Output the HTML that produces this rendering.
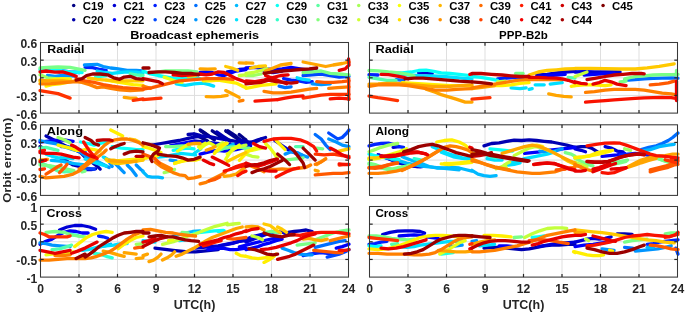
<!DOCTYPE html><html><head><meta charset="utf-8"><style>html,body{margin:0;padding:0;background:#fff;width:685px;height:313px;overflow:hidden}svg{display:block;filter:blur(0.35px)}text{font-family:"Liberation Sans",sans-serif;font-weight:bold}</style></head><body>
<svg width="685" height="313" viewBox="0 0 685 313">
<rect width="685" height="313" fill="#fff"/>
<circle cx="73.70" cy="5.60" r="1.75" fill="#000083"/>
<text transform="translate(82.70,9.90) scale(0.965,1)" text-anchor="start" font-size="11.8" fill="#000" >C19</text>
<circle cx="73.70" cy="19.80" r="1.75" fill="#0000ab"/>
<text transform="translate(82.70,24.10) scale(0.965,1)" text-anchor="start" font-size="11.8" fill="#000" >C20</text>
<circle cx="114.42" cy="5.60" r="1.75" fill="#0000d3"/>
<text transform="translate(123.42,9.90) scale(0.965,1)" text-anchor="start" font-size="11.8" fill="#000" >C21</text>
<circle cx="114.42" cy="19.80" r="1.75" fill="#0000f7"/>
<text transform="translate(123.42,24.10) scale(0.965,1)" text-anchor="start" font-size="11.8" fill="#000" >C22</text>
<circle cx="155.14" cy="5.60" r="1.75" fill="#0020ff"/>
<text transform="translate(164.14,9.90) scale(0.965,1)" text-anchor="start" font-size="11.8" fill="#000" >C23</text>
<circle cx="155.14" cy="19.80" r="1.75" fill="#0048ff"/>
<text transform="translate(164.14,24.10) scale(0.965,1)" text-anchor="start" font-size="11.8" fill="#000" >C24</text>
<circle cx="195.86" cy="5.60" r="1.75" fill="#0070ff"/>
<text transform="translate(204.86,9.90) scale(0.965,1)" text-anchor="start" font-size="11.8" fill="#000" >C25</text>
<circle cx="195.86" cy="19.80" r="1.75" fill="#0097ff"/>
<text transform="translate(204.86,24.10) scale(0.965,1)" text-anchor="start" font-size="11.8" fill="#000" >C26</text>
<circle cx="236.58" cy="5.60" r="1.75" fill="#00bbff"/>
<text transform="translate(245.58,9.90) scale(0.965,1)" text-anchor="start" font-size="11.8" fill="#000" >C27</text>
<circle cx="236.58" cy="19.80" r="1.75" fill="#00e3ff"/>
<text transform="translate(245.58,24.10) scale(0.965,1)" text-anchor="start" font-size="11.8" fill="#000" >C28</text>
<circle cx="277.30" cy="5.60" r="1.75" fill="#0cfff3"/>
<text transform="translate(286.30,9.90) scale(0.965,1)" text-anchor="start" font-size="11.8" fill="#000" >C29</text>
<circle cx="277.30" cy="19.80" r="1.75" fill="#34ffcb"/>
<text transform="translate(286.30,24.10) scale(0.965,1)" text-anchor="start" font-size="11.8" fill="#000" >C30</text>
<circle cx="318.02" cy="5.60" r="1.75" fill="#5cffa3"/>
<text transform="translate(327.02,9.90) scale(0.965,1)" text-anchor="start" font-size="11.8" fill="#000" >C31</text>
<circle cx="318.02" cy="19.80" r="1.75" fill="#83ff7c"/>
<text transform="translate(327.02,24.10) scale(0.965,1)" text-anchor="start" font-size="11.8" fill="#000" >C32</text>
<circle cx="358.74" cy="5.60" r="1.75" fill="#a7ff58"/>
<text transform="translate(367.74,9.90) scale(0.965,1)" text-anchor="start" font-size="11.8" fill="#000" >C33</text>
<circle cx="358.74" cy="19.80" r="1.75" fill="#cfff30"/>
<text transform="translate(367.74,24.10) scale(0.965,1)" text-anchor="start" font-size="11.8" fill="#000" >C34</text>
<circle cx="399.46" cy="5.60" r="1.75" fill="#f7ff08"/>
<text transform="translate(408.46,9.90) scale(0.965,1)" text-anchor="start" font-size="11.8" fill="#000" >C35</text>
<circle cx="399.46" cy="19.80" r="1.75" fill="#ffdf00"/>
<text transform="translate(408.46,24.10) scale(0.965,1)" text-anchor="start" font-size="11.8" fill="#000" >C36</text>
<circle cx="440.18" cy="5.60" r="1.75" fill="#ffb700"/>
<text transform="translate(449.18,9.90) scale(0.965,1)" text-anchor="start" font-size="11.8" fill="#000" >C37</text>
<circle cx="440.18" cy="19.80" r="1.75" fill="#ff9300"/>
<text transform="translate(449.18,24.10) scale(0.965,1)" text-anchor="start" font-size="11.8" fill="#000" >C38</text>
<circle cx="480.90" cy="5.60" r="1.75" fill="#ff6c00"/>
<text transform="translate(489.90,9.90) scale(0.965,1)" text-anchor="start" font-size="11.8" fill="#000" >C39</text>
<circle cx="480.90" cy="19.80" r="1.75" fill="#ff4400"/>
<text transform="translate(489.90,24.10) scale(0.965,1)" text-anchor="start" font-size="11.8" fill="#000" >C40</text>
<circle cx="521.62" cy="5.60" r="1.75" fill="#ff1c00"/>
<text transform="translate(530.62,9.90) scale(0.965,1)" text-anchor="start" font-size="11.8" fill="#000" >C41</text>
<circle cx="521.62" cy="19.80" r="1.75" fill="#f30000"/>
<text transform="translate(530.62,24.10) scale(0.965,1)" text-anchor="start" font-size="11.8" fill="#000" >C42</text>
<circle cx="562.34" cy="5.60" r="1.75" fill="#cf0000"/>
<text transform="translate(571.34,9.90) scale(0.965,1)" text-anchor="start" font-size="11.8" fill="#000" >C43</text>
<circle cx="562.34" cy="19.80" r="1.75" fill="#a70000"/>
<text transform="translate(571.34,24.10) scale(0.965,1)" text-anchor="start" font-size="11.8" fill="#000" >C44</text>
<circle cx="603.06" cy="5.60" r="1.75" fill="#800000"/>
<text transform="translate(612.06,9.90) scale(0.965,1)" text-anchor="start" font-size="11.8" fill="#000" >C45</text>
<line x1="79.00" y1="42.50" x2="79.00" y2="113.10" stroke="#dfdfdf" stroke-width="1"/>
<line x1="117.50" y1="42.50" x2="117.50" y2="113.10" stroke="#dfdfdf" stroke-width="1"/>
<line x1="156.00" y1="42.50" x2="156.00" y2="113.10" stroke="#dfdfdf" stroke-width="1"/>
<line x1="194.50" y1="42.50" x2="194.50" y2="113.10" stroke="#dfdfdf" stroke-width="1"/>
<line x1="233.00" y1="42.50" x2="233.00" y2="113.10" stroke="#dfdfdf" stroke-width="1"/>
<line x1="271.50" y1="42.50" x2="271.50" y2="113.10" stroke="#dfdfdf" stroke-width="1"/>
<line x1="310.00" y1="42.50" x2="310.00" y2="113.10" stroke="#dfdfdf" stroke-width="1"/>
<line x1="40.50" y1="60.15" x2="348.50" y2="60.15" stroke="#dfdfdf" stroke-width="1"/>
<line x1="40.50" y1="77.80" x2="348.50" y2="77.80" stroke="#dfdfdf" stroke-width="1"/>
<line x1="40.50" y1="95.45" x2="348.50" y2="95.45" stroke="#dfdfdf" stroke-width="1"/>
<g fill="none" stroke-width="3.6" stroke-linecap="round" stroke-linejoin="round">
<path d="M49.0,71.0 L55.0,71.0 L59.5,71.8" stroke="#0000d7" stroke-width="3.3"/>
<path d="M227.2,71.8 L233.2,71.0 L239.2,69.5 L246.0,68.8" stroke="#0000d7" stroke-width="3.3"/>
<path d="M264.0,71.0 L273.1,72.5 L282.1,71.0" stroke="#0000d7" stroke-width="3.3"/>
<path d="M200.1,72.5 L206.2,71.8 L212.2,72.5 L218.2,74.8 L224.2,75.5 L230.2,73.3 L236.2,71.0 L246.0,69.5" stroke="#0000fb" stroke-width="3.3"/>
<path d="M246.0,68.0 L255.0,67.3 L264.0,68.8 L273.1,69.5 L282.1,68.8 L291.1,67.3 L300.1,68.8 L309.2,70.3 L316.7,71.0" stroke="#0000fb" stroke-width="3.3"/>
<path d="M62.6,71.0 L70.1,71.8 L79.1,72.5" stroke="#0022ff" stroke-width="3.3"/>
<path d="M85.1,67.3 L92.6,67.7 L100.2,69.5 L106.2,70.3" stroke="#0022ff" stroke-width="3.3"/>
<path d="M283.6,78.6 L291.1,80.1 L298.6,80.8 L306.2,82.3 L312.2,81.6" stroke="#0022ff" stroke-width="3.3"/>
<path d="M303.1,75.5 L312.2,74.8 L321.2,74.0 L330.2,75.5 L339.2,77.1 L349.0,76.3" stroke="#0048ff" stroke-width="3.3"/>
<path d="M279.1,86.1 L285.1,87.6 L291.1,86.8" stroke="#006eff" stroke-width="3.3"/>
<path d="M47.5,75.5 L55.0,76.3 L62.6,75.5 L70.1,75.5 L76.1,76.3" stroke="#0095ff" stroke-width="3.3"/>
<path d="M84.4,65.0 L91.1,64.7 L97.1,64.3 L103.2,66.5 L110.7,68.0 L118.2,68.8 L127.2,70.3 L136.2,70.3 L143.0,71.0" stroke="#0095ff" stroke-width="3.3"/>
<path d="M312.2,83.8 L321.2,84.6 L330.2,83.8" stroke="#0095ff" stroke-width="3.3"/>
<path d="M97.1,71.0 L104.7,72.5 L112.2,73.3 L119.7,72.5 L127.2,71.8 L136.2,72.2 L143.0,73.3" stroke="#00dfff" stroke-width="3.3"/>
<path d="M176.1,83.8 L185.1,85.3 L194.1,83.8 L203.2,83.1 L209.2,84.6 L213.7,86.1" stroke="#00dfff" stroke-width="3.3"/>
<path d="M297.1,77.8 L303.1,79.3 L309.2,80.1" stroke="#00dfff" stroke-width="3.3"/>
<path d="M40.0,69.5 L49.0,69.8 L58.0,70.3 L70.1,71.8 L82.1,72.5" stroke="#06fff9" stroke-width="3.3"/>
<path d="M143.0,71.0 L150.5,74.0 L158.0,75.5 L167.1,77.1 L176.1,78.6 L185.1,77.8 L192.6,77.1 L200.1,78.6" stroke="#06fff9" stroke-width="3.3"/>
<path d="M95.6,77.1 L100.2,76.3 L106.2,75.5" stroke="#2cffd3" stroke-width="3.3"/>
<path d="M130.2,74.0 L136.2,74.8 L143.0,75.5" stroke="#52ffad" stroke-width="3.3"/>
<path d="M40.0,68.0 L47.5,67.3 L58.0,67.0 L70.1,67.3 L77.6,68.8 L85.1,70.3" stroke="#78ff87" stroke-width="3.3"/>
<path d="M155.0,72.5 L165.6,71.0 L177.6,71.0 L188.1,71.0 L197.1,71.8" stroke="#78ff87" stroke-width="3.3"/>
<path d="M303.1,72.5 L312.2,71.8 L321.2,71.0 L330.2,73.3 L339.2,74.0 L349.0,74.8" stroke="#78ff87" stroke-width="3.3"/>
<path d="M40.0,74.8 L47.5,77.8 L55.0,78.6 L62.6,79.3 L70.1,78.6" stroke="#9dff62" stroke-width="3.3"/>
<path d="M246.0,75.5 L253.5,75.5 L261.0,74.0" stroke="#9dff62" stroke-width="3.3"/>
<path d="M239.2,75.5 L246.0,74.8" stroke="#c3ff3c" stroke-width="3.3"/>
<path d="M246.0,73.3 L253.5,72.5 L261.0,70.3 L267.1,68.8" stroke="#c3ff3c" stroke-width="3.3"/>
<path d="M112.2,80.8 L121.2,82.3" stroke="#e9ff16" stroke-width="3.3"/>
<path d="M164.1,77.1 L170.1,79.3 L176.1,81.6 L182.1,82.3" stroke="#e9ff16" stroke-width="3.3"/>
<path d="M40.0,81.6 L47.5,80.8 L55.0,79.3 L62.6,78.6 L70.1,79.3" stroke="#ffef00" stroke-width="3.3"/>
<path d="M46.0,86.1 L52.0,84.6 L59.5,83.8 L67.1,82.3" stroke="#ffef00" stroke-width="3.3"/>
<path d="M106.2,80.1 L115.2,81.6 L124.2,83.1 L133.2,84.6 L143.0,85.3" stroke="#ffef00" stroke-width="3.3"/>
<path d="M203.2,80.8 L210.7,80.8 L218.2,80.1 L227.2,81.6 L236.2,83.1 L242.2,86.1 L246.0,87.6" stroke="#ffef00" stroke-width="3.3"/>
<path d="M246.0,88.3 L253.5,86.8 L261.0,85.3 L268.6,84.6 L276.1,83.8" stroke="#ffef00" stroke-width="3.3"/>
<path d="M88.1,77.8 L97.1,79.3 L106.2,80.1 L115.2,80.8 L124.2,80.8 L133.2,80.8 L143.0,80.8" stroke="#ffc900" stroke-width="3.3"/>
<path d="M225.7,66.5 L231.7,68.0 L237.7,70.3" stroke="#ffc900" stroke-width="3.3"/>
<path d="M188.1,76.3 L195.6,75.5" stroke="#ffc900" stroke-width="3.3"/>
<path d="M250.5,68.0 L258.0,66.5 L265.5,65.8" stroke="#ffc900" stroke-width="3.3"/>
<path d="M40.0,80.1 L47.5,80.8 L55.0,80.8 L62.6,80.8 L70.1,81.6 L76.1,80.8" stroke="#ffa500" stroke-width="3.3"/>
<path d="M124.2,97.4 L130.2,98.1 L136.2,98.1" stroke="#ffa500" stroke-width="3.3"/>
<path d="M200.1,68.8 L207.7,69.2 L215.2,68.8" stroke="#ffa500" stroke-width="3.3"/>
<path d="M239.2,62.8 L246.0,63.2" stroke="#ffa500" stroke-width="3.3"/>
<path d="M206.2,96.6 L213.7,96.9 L221.2,96.3 L227.2,95.4" stroke="#ffa500" stroke-width="3.3"/>
<path d="M225.7,90.6 L233.2,94.3 L239.2,97.4" stroke="#ffa500" stroke-width="3.3"/>
<path d="M246.0,62.8 L252.8,63.2" stroke="#ffa500" stroke-width="3.3"/>
<path d="M265.5,71.0 L273.1,68.0 L280.6,65.0 L291.1,63.5" stroke="#ffa500" stroke-width="3.3"/>
<path d="M303.1,62.0 L310.7,63.5 L318.2,65.0 L325.7,66.5 L333.2,65.0 L342.2,63.5 L349.0,62.0" stroke="#ffa500" stroke-width="3.3"/>
<path d="M40.0,83.8 L49.0,83.8 L58.0,83.1 L67.1,82.3 L76.1,81.6 L82.1,82.3 L89.6,84.6 L97.1,87.6 L103.2,86.8 L110.7,88.3 L119.7,89.8 L130.2,90.6 L143.0,89.8" stroke="#ff7f00" stroke-width="3.3"/>
<path d="M143.0,86.1 L150.5,88.3" stroke="#ff7f00" stroke-width="3.3"/>
<path d="M239.2,101.1 L243.0,100.4" stroke="#ff7f00" stroke-width="3.3"/>
<path d="M264.0,91.3 L273.1,92.8 L282.1,92.8 L291.1,92.1 L300.1,90.6 L309.2,89.1 L316.7,88.3" stroke="#ff7f00" stroke-width="3.3"/>
<path d="M328.7,88.3 L337.7,87.6 L349.0,86.8" stroke="#ff7f00" stroke-width="3.3"/>
<path d="M76.1,78.6 L85.1,80.8 L94.1,82.3 L103.2,84.6 L112.2,86.1 L122.7,87.6 L133.2,88.3 L143.0,89.1" stroke="#ff5900" stroke-width="3.3"/>
<path d="M143.0,89.1 L152.0,87.6 L161.0,85.3 L170.1,83.1 L179.1,80.8 L188.1,80.1 L197.1,79.3 L206.2,78.6 L215.2,78.6 L224.2,78.6 L233.2,79.3" stroke="#ff5900" stroke-width="3.3"/>
<path d="M316.7,81.6 L324.2,82.3 L333.2,82.3 L342.2,81.6 L349.0,80.8" stroke="#ff5900" stroke-width="3.3"/>
<path d="M40.0,90.6 L49.0,92.1 L58.0,93.6 L70.1,98.1" stroke="#ff3200" stroke-width="3.3"/>
<path d="M133.2,100.4 L143.0,98.9" stroke="#ff3200" stroke-width="3.3"/>
<path d="M143.0,99.6 L152.0,98.9 L161.0,98.1" stroke="#ff3200" stroke-width="3.3"/>
<path d="M303.1,98.1 L312.2,96.6 L321.2,95.1 L330.2,94.3 L339.2,94.3 L349.0,94.3" stroke="#ff3200" stroke-width="3.3"/>
<path d="M348.7,78.6 L348.7,99.6" stroke="#ff3200" stroke-width="3.3"/>
<path d="M255.0,101.1 L265.5,100.4 L277.6,99.6" stroke="#f91200" stroke-width="3.3"/>
<path d="M277.6,99.6 L285.1,98.1 L294.1,96.6 L303.1,95.8" stroke="#f91200" stroke-width="3.3"/>
<path d="M330.2,98.9 L339.2,98.1 L349.0,98.9" stroke="#f91200" stroke-width="3.3"/>
<path d="M40.0,71.8 L46.0,71.0 L55.0,72.2 L62.6,71.8 L70.1,74.0 L76.1,76.3" stroke="#e70000" stroke-width="3.3"/>
<path d="M173.1,74.8 L182.1,75.5 L191.1,74.8 L200.1,74.0 L206.2,74.8 L212.2,74.0 L218.2,71.8 L224.2,72.5 L230.2,75.5 L236.2,78.6 L242.2,80.8 L246.0,82.3" stroke="#e70000" stroke-width="3.3"/>
<path d="M246.0,80.8 L255.0,81.6 L264.0,80.1 L271.6,77.8 L280.6,75.5 L288.1,74.8" stroke="#e70000" stroke-width="3.3"/>
<path d="M265.5,75.5 L273.1,78.6 L280.6,81.6 L286.6,83.8" stroke="#e70000" stroke-width="3.3"/>
<path d="M339.2,70.3 L345.2,68.8 L349.0,65.0 L348.6,59.0" stroke="#e70000" stroke-width="3.3"/>
<path d="M143.0,78.6 L150.5,80.1 L158.0,81.6 L162.5,83.8" stroke="#c10000" stroke-width="3.3"/>
<path d="M246.0,83.8 L253.5,83.1 L261.0,82.3 L268.6,80.1 L276.1,81.6 L283.6,82.3 L291.1,83.1 L297.1,82.3" stroke="#c10000" stroke-width="3.3"/>
<path d="M76.1,80.1 L82.1,78.6 L86.6,75.5 L92.6,74.0 L100.2,74.0 L107.7,74.8 L113.7,77.8 L119.7,79.3 L124.2,77.1 L130.2,76.3 L136.2,78.6 L143.0,79.3" stroke="#9b0000" stroke-width="3.3"/>
<path d="M143.0,68.0 L149.0,68.0" stroke="#9b0000" stroke-width="3.3"/>
<path d="M149.0,72.5 L158.0,71.8 L165.6,71.8 L174.6,72.5 L182.1,73.3 L191.1,73.3 L198.6,74.8" stroke="#9b0000" stroke-width="3.3"/>
<path d="M264.0,73.3 L273.1,71.8 L282.1,71.0 L291.1,70.3 L300.1,69.5 L309.2,68.8 L316.7,68.0" stroke="#9b0000" stroke-width="3.3"/>
</g>
<rect x="40.50" y="42.50" width="308.00" height="70.60" fill="none" stroke="#383838" stroke-width="1.05"/>
<line x1="79.00" y1="113.10" x2="79.00" y2="109.90" stroke="#262626" stroke-width="1.2"/>
<line x1="79.00" y1="42.50" x2="79.00" y2="45.70" stroke="#262626" stroke-width="1.2"/>
<line x1="117.50" y1="113.10" x2="117.50" y2="109.90" stroke="#262626" stroke-width="1.2"/>
<line x1="117.50" y1="42.50" x2="117.50" y2="45.70" stroke="#262626" stroke-width="1.2"/>
<line x1="156.00" y1="113.10" x2="156.00" y2="109.90" stroke="#262626" stroke-width="1.2"/>
<line x1="156.00" y1="42.50" x2="156.00" y2="45.70" stroke="#262626" stroke-width="1.2"/>
<line x1="194.50" y1="113.10" x2="194.50" y2="109.90" stroke="#262626" stroke-width="1.2"/>
<line x1="194.50" y1="42.50" x2="194.50" y2="45.70" stroke="#262626" stroke-width="1.2"/>
<line x1="233.00" y1="113.10" x2="233.00" y2="109.90" stroke="#262626" stroke-width="1.2"/>
<line x1="233.00" y1="42.50" x2="233.00" y2="45.70" stroke="#262626" stroke-width="1.2"/>
<line x1="271.50" y1="113.10" x2="271.50" y2="109.90" stroke="#262626" stroke-width="1.2"/>
<line x1="271.50" y1="42.50" x2="271.50" y2="45.70" stroke="#262626" stroke-width="1.2"/>
<line x1="310.00" y1="113.10" x2="310.00" y2="109.90" stroke="#262626" stroke-width="1.2"/>
<line x1="310.00" y1="42.50" x2="310.00" y2="45.70" stroke="#262626" stroke-width="1.2"/>
<line x1="40.50" y1="60.15" x2="43.70" y2="60.15" stroke="#262626" stroke-width="1.2"/>
<line x1="348.50" y1="60.15" x2="345.30" y2="60.15" stroke="#262626" stroke-width="1.2"/>
<line x1="40.50" y1="77.80" x2="43.70" y2="77.80" stroke="#262626" stroke-width="1.2"/>
<line x1="348.50" y1="77.80" x2="345.30" y2="77.80" stroke="#262626" stroke-width="1.2"/>
<line x1="40.50" y1="95.45" x2="43.70" y2="95.45" stroke="#262626" stroke-width="1.2"/>
<line x1="348.50" y1="95.45" x2="345.30" y2="95.45" stroke="#262626" stroke-width="1.2"/>
<text transform="translate(37.20,48.00) scale(1.0,1)" text-anchor="end" font-size="12.1" fill="#262626" >0.6</text>
<text transform="translate(37.20,65.65) scale(1.0,1)" text-anchor="end" font-size="12.1" fill="#262626" >0.3</text>
<text transform="translate(37.20,83.30) scale(1.0,1)" text-anchor="end" font-size="12.1" fill="#262626" >0</text>
<text transform="translate(37.20,100.95) scale(1.0,1)" text-anchor="end" font-size="12.1" fill="#262626" >-0.3</text>
<text transform="translate(37.20,118.60) scale(1.0,1)" text-anchor="end" font-size="12.1" fill="#262626" >-0.6</text>
<text transform="translate(47.20,53.10) scale(1.05,1)" text-anchor="start" font-size="11.8" fill="#000" >Radial</text>
<line x1="79.00" y1="124.80" x2="79.00" y2="195.40" stroke="#dfdfdf" stroke-width="1"/>
<line x1="117.50" y1="124.80" x2="117.50" y2="195.40" stroke="#dfdfdf" stroke-width="1"/>
<line x1="156.00" y1="124.80" x2="156.00" y2="195.40" stroke="#dfdfdf" stroke-width="1"/>
<line x1="194.50" y1="124.80" x2="194.50" y2="195.40" stroke="#dfdfdf" stroke-width="1"/>
<line x1="233.00" y1="124.80" x2="233.00" y2="195.40" stroke="#dfdfdf" stroke-width="1"/>
<line x1="271.50" y1="124.80" x2="271.50" y2="195.40" stroke="#dfdfdf" stroke-width="1"/>
<line x1="310.00" y1="124.80" x2="310.00" y2="195.40" stroke="#dfdfdf" stroke-width="1"/>
<line x1="40.50" y1="142.45" x2="348.50" y2="142.45" stroke="#dfdfdf" stroke-width="1"/>
<line x1="40.50" y1="160.10" x2="348.50" y2="160.10" stroke="#dfdfdf" stroke-width="1"/>
<line x1="40.50" y1="177.75" x2="348.50" y2="177.75" stroke="#dfdfdf" stroke-width="1"/>
<g fill="none" stroke-width="3.6" stroke-linecap="round" stroke-linejoin="round">
<path d="M40.0,146.6 L43.0,148.1" stroke="#00008b" stroke-width="3.3"/>
<path d="M200.1,130.0 L204.7,133.0 L209.2,136.0" stroke="#00008b" stroke-width="3.3"/>
<path d="M212.2,130.8 L216.7,133.8 L221.2,137.5 L225.7,139.8" stroke="#00008b" stroke-width="3.3"/>
<path d="M225.7,130.8 L230.2,133.8 L234.7,136.8 L239.2,139.8" stroke="#00008b" stroke-width="3.3"/>
<path d="M239.2,134.5 L243.8,138.3 L246.0,139.8" stroke="#00008b" stroke-width="3.3"/>
<path d="M194.0,134.2 L200.8,137.6 L207.6,141.0" stroke="#00008b" stroke-width="3.3"/>
<path d="M200.8,130.8 L207.6,135.3 L214.4,139.9" stroke="#00008b" stroke-width="3.3"/>
<path d="M228.0,130.8 L234.8,135.3 L241.6,141.0 L248.4,142.1" stroke="#00008b" stroke-width="3.3"/>
<path d="M46.0,136.0 L52.0,139.0 L58.0,142.0 L64.1,145.1 L70.1,148.1 L76.1,150.3 L80.6,152.6 L85.1,157.1 L91.1,161.6 L97.1,166.1 L100.2,169.1" stroke="#0000b1" stroke-width="3.3"/>
<path d="M61.1,158.3 L67.1,161.3 L73.1,165.0 L79.1,166.5" stroke="#0000b1" stroke-width="3.3"/>
<path d="M152.0,145.1 L161.0,143.5 L170.1,142.0 L179.1,140.5 L188.1,138.3 L195.6,136.8 L203.2,136.0 L210.7,136.8 L218.2,138.3 L227.2,139.8 L236.2,141.3 L246.0,141.3" stroke="#0000b1" stroke-width="3.3"/>
<path d="M188.1,134.5 L194.1,133.8 L200.1,135.3" stroke="#0000b1" stroke-width="3.3"/>
<path d="M246.0,143.5 L252.0,142.0 L258.0,139.8 L265.5,137.5" stroke="#0000b1" stroke-width="3.3"/>
<path d="M216.7,131.9 L223.5,136.5 L230.3,141.0" stroke="#0000b1" stroke-width="3.3"/>
<path d="M239.4,139.9 L248.4,142.1 L255.2,142.1 L262.0,138.7" stroke="#0000b1" stroke-width="3.3"/>
<path d="M61.1,160.1 L67.1,162.3 L73.1,163.8 L79.1,165.4" stroke="#0000d7" stroke-width="3.3"/>
<path d="M86.6,169.5 L91.1,169.5 L95.6,168.8" stroke="#0000d7" stroke-width="3.3"/>
<path d="M274.6,140.5 L279.1,143.5 L283.6,146.6 L288.1,149.6 L292.6,151.8 L297.1,154.1 L303.1,155.6" stroke="#0000d7" stroke-width="3.3"/>
<path d="M194.0,141.0 L205.3,142.1 L216.7,143.3 L228.0,144.4 L239.4,144.4 L250.7,145.5" stroke="#0000d7" stroke-width="3.3"/>
<path d="M40.0,142.0 L46.0,141.3 L55.0,140.5 L64.1,139.8 L73.1,141.3" stroke="#0000fb" stroke-width="3.3"/>
<path d="M170.1,145.8 L177.6,144.3 L185.1,142.8 L192.6,141.3" stroke="#0000fb" stroke-width="3.3"/>
<path d="M200.1,154.1 L206.2,152.6 L212.2,151.1 L218.2,150.3 L224.2,151.1 L230.2,150.3 L236.2,149.6 L242.2,148.1 L246.0,146.6" stroke="#0000fb" stroke-width="3.3"/>
<path d="M61.1,146.6 L67.1,146.6 L73.1,148.1 L79.1,149.6 L85.1,151.8" stroke="#0048ff" stroke-width="3.3"/>
<path d="M82.1,169.1 L88.1,168.4 L94.1,169.1" stroke="#0048ff" stroke-width="3.3"/>
<path d="M328.7,133.0 L333.2,136.0 L337.7,139.0 L342.2,137.5 L346.8,133.0 L349.0,130.0" stroke="#0048ff" stroke-width="3.3"/>
<path d="M315.2,134.5 L321.2,139.0 L325.7,145.1 L330.2,149.6" stroke="#006eff" stroke-width="3.3"/>
<path d="M40.0,140.5 L46.0,142.0 L55.0,143.5 L64.1,146.6 L73.1,149.6 L79.1,151.1 L85.1,155.6 L91.1,160.1 L97.1,161.6 L103.2,164.6 L109.2,167.6" stroke="#0095ff" stroke-width="3.3"/>
<path d="M104.7,157.5 L109.2,162.0 L112.2,166.5" stroke="#0095ff" stroke-width="3.3"/>
<path d="M113.7,162.0 L118.2,166.5 L122.7,171.1 L124.2,172.6" stroke="#0095ff" stroke-width="3.3"/>
<path d="M127.2,165.0 L131.7,169.5 L136.2,175.6" stroke="#0095ff" stroke-width="3.3"/>
<path d="M136.2,165.0 L140.8,169.5 L143.0,171.1" stroke="#0095ff" stroke-width="3.3"/>
<path d="M170.1,160.1 L176.1,160.8" stroke="#0095ff" stroke-width="3.3"/>
<path d="M285.1,154.1 L291.1,151.8 L297.1,152.6 L303.1,155.6 L307.7,157.1" stroke="#0095ff" stroke-width="3.3"/>
<path d="M328.7,139.0 L336.2,142.0 L342.2,145.1 L349.0,146.6" stroke="#0095ff" stroke-width="3.3"/>
<path d="M94.1,160.1 L100.2,163.1 L106.2,166.1" stroke="#00b9ff" stroke-width="3.3"/>
<path d="M227.2,148.1 L230.2,145.8 L233.2,144.3" stroke="#00b9ff" stroke-width="3.3"/>
<path d="M143.0,171.8 L147.5,176.3 L152.0,177.1 L158.0,177.1 L162.5,177.8" stroke="#00b9ff" stroke-width="3.3"/>
<path d="M51.3,160.3 L62.7,161.4 L74.0,163.7 L85.4,164.8" stroke="#00b9ff" stroke-width="3.3"/>
<path d="M46.0,154.1 L52.0,156.3 L58.0,157.8 L65.6,157.8 L73.1,158.6" stroke="#00dfff" stroke-width="3.3"/>
<path d="M103.2,157.1 L109.2,160.1 L115.2,163.1" stroke="#00dfff" stroke-width="3.3"/>
<path d="M85.1,159.0 L92.6,162.0 L100.2,164.3 L106.2,165.8" stroke="#00dfff" stroke-width="3.3"/>
<path d="M158.0,157.1 L165.6,156.3 L173.1,154.8 L180.6,153.3 L188.1,154.1 L195.6,154.8" stroke="#00dfff" stroke-width="3.3"/>
<path d="M246.0,149.6 L249.0,148.1" stroke="#00dfff" stroke-width="3.3"/>
<path d="M194.0,153.5 L200.8,148.9" stroke="#00dfff" stroke-width="3.3"/>
<path d="M221.2,148.9 L230.3,146.7" stroke="#00dfff" stroke-width="3.3"/>
<path d="M80.6,142.0 L88.1,143.5 L94.1,145.1 L100.2,143.5 L106.2,142.0" stroke="#06fff9" stroke-width="3.3"/>
<path d="M112.2,146.6 L121.2,148.1 L130.2,148.8 L136.2,149.6 L143.0,149.6" stroke="#06fff9" stroke-width="3.3"/>
<path d="M173.1,150.3 L180.6,148.8 L188.1,148.1 L194.1,148.8" stroke="#06fff9" stroke-width="3.3"/>
<path d="M40.0,148.1 L46.0,147.3 L52.0,148.8 L58.0,150.3" stroke="#52ffad" stroke-width="3.3"/>
<path d="M40.0,162.8 L46.0,165.0 L52.0,168.0 L58.0,171.1 L64.1,171.8 L73.1,171.1" stroke="#52ffad" stroke-width="3.3"/>
<path d="M295.6,146.6 L303.1,146.6" stroke="#52ffad" stroke-width="3.3"/>
<path d="M82.1,171.8 L85.1,171.1" stroke="#78ff87" stroke-width="3.3"/>
<path d="M165.6,146.6 L173.1,146.6 L182.1,145.8 L189.6,146.6" stroke="#78ff87" stroke-width="3.3"/>
<path d="M285.1,160.1 L291.1,159.3 L297.1,158.6 L303.1,157.8" stroke="#78ff87" stroke-width="3.3"/>
<path d="M316.7,148.1 L322.7,148.8" stroke="#78ff87" stroke-width="3.3"/>
<path d="M216.7,151.2 L225.7,147.8 L234.8,146.7 L243.9,147.8 L253.0,148.9" stroke="#78ff87" stroke-width="3.3"/>
<path d="M40.0,164.8 L51.3,166.0 L62.7,168.2 L74.0,170.5" stroke="#78ff87" stroke-width="3.3"/>
<path d="M58.0,137.5 L64.1,139.8 L70.1,142.8" stroke="#9dff62" stroke-width="3.3"/>
<path d="M164.1,172.6 L170.1,171.1 L174.6,169.5" stroke="#9dff62" stroke-width="3.3"/>
<path d="M215.2,146.6 L219.7,144.3 L222.7,142.8" stroke="#c3ff3c" stroke-width="3.3"/>
<path d="M233.2,148.8 L239.2,146.6 L246.0,145.1" stroke="#c3ff3c" stroke-width="3.3"/>
<path d="M246.0,154.1 L252.0,156.3 L258.0,157.1" stroke="#c3ff3c" stroke-width="3.3"/>
<path d="M177.6,151.1 L182.1,148.1 L188.1,144.3" stroke="#e9ff16" stroke-width="3.3"/>
<path d="M200.1,148.8 L204.7,145.1 L209.2,142.8 L213.7,145.1" stroke="#e9ff16" stroke-width="3.3"/>
<path d="M215.2,151.8 L219.7,148.8 L224.2,145.1 L227.2,143.5" stroke="#e9ff16" stroke-width="3.3"/>
<path d="M227.2,154.1 L231.7,151.1 L236.2,147.3 L239.2,145.1" stroke="#e9ff16" stroke-width="3.3"/>
<path d="M246.0,151.1 L252.0,150.3 L258.0,148.8 L262.5,148.1" stroke="#e9ff16" stroke-width="3.3"/>
<path d="M265.5,143.5 L270.1,148.1 L274.6,154.1 L277.6,158.6" stroke="#e9ff16" stroke-width="3.3"/>
<path d="M198.5,146.7 L205.3,143.3" stroke="#e9ff16" stroke-width="3.3"/>
<path d="M225.7,159.1 L232.5,148.9 L239.4,146.7" stroke="#e9ff16" stroke-width="3.3"/>
<path d="M58.0,145.1 L64.1,146.6 L70.1,148.1 L76.1,150.3 L82.1,150.3 L88.1,148.8 L94.1,149.6 L100.2,151.1" stroke="#ffef00" stroke-width="3.3"/>
<path d="M110.7,130.0 L116.7,133.0 L122.7,136.0" stroke="#ffef00" stroke-width="3.3"/>
<path d="M174.6,163.1 L180.6,161.6 L188.1,160.1 L195.6,160.1 L200.1,158.6" stroke="#ffef00" stroke-width="3.3"/>
<path d="M143.0,146.6 L149.0,148.1 L155.0,150.3 L161.0,152.6" stroke="#ffef00" stroke-width="3.3"/>
<path d="M174.6,163.5 L179.1,162.0 L183.6,160.5" stroke="#ffef00" stroke-width="3.3"/>
<path d="M276.1,140.5 L280.6,145.1 L285.1,149.6" stroke="#ffef00" stroke-width="3.3"/>
<path d="M214.4,153.5 L221.2,145.5 L225.7,143.3" stroke="#ffef00" stroke-width="3.3"/>
<path d="M239.4,160.3 L248.4,151.2 L257.5,146.7" stroke="#ffef00" stroke-width="3.3"/>
<path d="M108.0,161.4 L121.6,160.3 L135.2,159.1 L146.6,158.0 L157.9,155.7" stroke="#ffef00" stroke-width="3.3"/>
<path d="M130.2,139.0 L134.7,139.8 L139.2,142.0" stroke="#ffc900" stroke-width="3.3"/>
<path d="M106.2,160.1 L113.7,160.1 L121.2,161.6 L130.2,161.6 L137.7,160.8 L143.0,160.1" stroke="#ffc900" stroke-width="3.3"/>
<path d="M106.2,159.0 L112.2,162.8 L118.2,163.5 L124.2,162.8 L133.2,161.3 L143.0,159.8" stroke="#ffc900" stroke-width="3.3"/>
<path d="M227.2,161.6 L233.2,158.6 L239.2,155.6 L246.0,152.6" stroke="#ffc900" stroke-width="3.3"/>
<path d="M336.2,151.8 L342.2,150.3 L349.0,148.8" stroke="#ffc900" stroke-width="3.3"/>
<path d="M40.0,160.1 L47.5,159.3" stroke="#ffa500" stroke-width="3.3"/>
<path d="M109.2,160.5 L118.2,161.3 L127.2,162.0 L136.2,161.3" stroke="#ffa500" stroke-width="3.3"/>
<path d="M188.1,144.3 L194.1,143.5 L200.1,143.5" stroke="#ffa500" stroke-width="3.3"/>
<path d="M206.2,150.3 L212.2,148.1 L215.2,146.6" stroke="#ffa500" stroke-width="3.3"/>
<path d="M224.2,176.3 L230.2,175.6 L236.2,174.1 L242.2,169.5 L246.0,166.5" stroke="#ffa500" stroke-width="3.3"/>
<path d="M316.7,164.6 L321.2,161.6 L325.7,158.6" stroke="#ffa500" stroke-width="3.3"/>
<path d="M315.2,170.3 L318.2,171.1" stroke="#ffa500" stroke-width="3.3"/>
<path d="M79.1,169.1 L85.1,164.6 L91.1,158.6 L95.6,154.1 L100.2,149.6 L104.7,145.1 L109.2,142.0 L115.2,139.8 L121.2,139.0 L127.2,139.0 L133.2,140.5 L139.2,142.8 L143.0,145.1" stroke="#ff7f00" stroke-width="3.3"/>
<path d="M40.0,176.3 L46.0,177.8 L55.0,177.1 L64.1,176.3 L73.1,174.1 L79.1,171.1 L85.1,166.5 L91.1,162.0 L97.1,157.5 L103.2,153.0 L106.2,150.0" stroke="#ff7f00" stroke-width="3.3"/>
<path d="M156.5,161.6 L162.5,164.6 L168.6,167.6 L171.6,169.1" stroke="#ff7f00" stroke-width="3.3"/>
<path d="M155.0,162.0 L161.0,166.5 L167.1,169.5 L173.1,172.6 L179.1,174.8 L185.1,175.6 L188.1,178.6 L194.1,177.8 L200.1,176.3" stroke="#ff7f00" stroke-width="3.3"/>
<path d="M200.1,183.8 L206.2,182.3 L210.7,180.1 L215.2,177.8 L221.2,174.8 L225.7,171.8" stroke="#ff7f00" stroke-width="3.3"/>
<path d="M246.0,163.5 L252.0,166.5 L258.0,168.8 L264.0,171.8" stroke="#ff7f00" stroke-width="3.3"/>
<path d="M270.1,169.5 L276.1,169.5 L282.1,168.8 L288.1,169.5 L294.1,168.8 L300.1,168.0 L306.2,167.3 L310.7,165.0" stroke="#ff7f00" stroke-width="3.3"/>
<path d="M315.2,164.3 L321.2,162.0 L325.7,159.0" stroke="#ff7f00" stroke-width="3.3"/>
<path d="M46.0,174.1 L52.0,170.3 L58.0,166.5 L61.1,165.0" stroke="#ff5900" stroke-width="3.3"/>
<path d="M59.5,172.6 L64.1,168.0 L67.1,164.3" stroke="#ff5900" stroke-width="3.3"/>
<path d="M143.0,154.1 L149.0,156.3 L155.0,158.6 L159.5,163.1" stroke="#ff5900" stroke-width="3.3"/>
<path d="M209.2,180.8 L215.2,179.3 L219.7,177.1" stroke="#ff5900" stroke-width="3.3"/>
<path d="M315.2,174.8 L324.2,174.1 L333.2,173.3 L342.2,173.3 L349.0,172.6" stroke="#ff5900" stroke-width="3.3"/>
<path d="M40.0,169.5 L44.5,168.8" stroke="#ff3200" stroke-width="3.3"/>
<path d="M315.2,154.1 L324.2,154.8 L333.2,154.1 L342.2,155.6 L349.0,156.3" stroke="#ff3200" stroke-width="3.3"/>
<path d="M339.2,165.0 L345.2,164.3 L349.0,164.3" stroke="#ff3200" stroke-width="3.3"/>
<path d="M83.6,142.0 L86.6,146.6 L89.6,151.1 L93.4,155.6 L97.1,158.6" stroke="#f91200" stroke-width="3.3"/>
<path d="M40.0,151.1 L44.5,150.3" stroke="#f91200" stroke-width="3.3"/>
<path d="M230.2,169.1 L236.2,167.6 L242.2,166.1 L246.0,165.4" stroke="#f91200" stroke-width="3.3"/>
<path d="M224.2,171.1 L230.2,169.5 L236.2,166.5 L240.7,165.0 L246.0,163.5" stroke="#f91200" stroke-width="3.3"/>
<path d="M237.7,175.6 L242.2,172.6 L246.0,171.1" stroke="#f91200" stroke-width="3.3"/>
<path d="M264.0,141.3 L273.1,139.0 L282.1,138.3 L291.1,138.3 L300.1,139.8 L307.7,142.8 L313.7,146.6 L316.7,151.1" stroke="#f91200" stroke-width="3.3"/>
<path d="M339.2,163.8 L345.2,164.6 L349.0,164.6" stroke="#f91200" stroke-width="3.3"/>
<path d="M276.1,177.1 L282.1,174.1 L288.1,171.1 L294.1,168.8 L298.6,168.0" stroke="#f91200" stroke-width="3.3"/>
<path d="M71.6,145.1 L76.1,147.3 L80.6,150.3 L85.1,153.3 L89.6,155.6 L94.1,157.1" stroke="#e70000" stroke-width="3.3"/>
<path d="M40.0,152.6 L46.0,153.3 L53.5,153.3 L61.1,154.1 L67.1,155.6 L73.1,157.1 L79.1,157.8" stroke="#e70000" stroke-width="3.3"/>
<path d="M40.0,161.6 L46.0,160.1" stroke="#e70000" stroke-width="3.3"/>
<path d="M203.2,160.1 L209.2,163.1 L213.7,164.6" stroke="#e70000" stroke-width="3.3"/>
<path d="M212.2,157.1 L218.2,160.1 L224.2,163.1 L228.7,165.4" stroke="#e70000" stroke-width="3.3"/>
<path d="M253.5,143.5 L259.5,146.6 L265.5,148.1" stroke="#e70000" stroke-width="3.3"/>
<path d="M246.0,163.1 L252.0,165.4 L258.0,166.1 L265.5,163.8 L271.6,161.6 L277.6,159.3" stroke="#e70000" stroke-width="3.3"/>
<path d="M330.2,148.1 L336.2,151.1 L342.2,154.8 L349.0,157.8" stroke="#e70000" stroke-width="3.3"/>
<path d="M264.0,170.3 L270.1,171.1 L276.1,171.1" stroke="#e70000" stroke-width="3.3"/>
<path d="M97.1,140.5 L103.2,139.8 L109.2,139.8 L112.2,140.5" stroke="#c10000" stroke-width="3.3"/>
<path d="M136.2,156.3 L143.0,156.3" stroke="#c10000" stroke-width="3.3"/>
<path d="M246.0,166.5 L252.0,165.0 L258.0,164.3 L264.0,162.8 L270.1,160.5 L276.1,159.0" stroke="#c10000" stroke-width="3.3"/>
<path d="M85.1,137.5 L91.1,140.5 L94.1,143.5 L98.6,145.1" stroke="#9b0000" stroke-width="3.3"/>
<path d="M110.7,148.8 L115.2,146.6 L121.2,144.3 L124.2,143.5" stroke="#9b0000" stroke-width="3.3"/>
<path d="M124.2,154.1 L130.2,151.8 L136.2,151.1 L143.0,151.8" stroke="#9b0000" stroke-width="3.3"/>
<path d="M143.0,142.8 L152.0,145.1 L159.5,148.1 L158.0,151.1 L153.5,154.1 L150.5,158.6 L152.0,161.6" stroke="#9b0000" stroke-width="3.3"/>
<path d="M158.0,154.1 L167.1,155.6 L176.1,156.3 L182.1,157.8 L188.1,160.1 L194.1,159.3 L200.1,157.1" stroke="#9b0000" stroke-width="3.3"/>
<path d="M277.6,154.1 L282.1,157.8 L286.6,161.6 L289.6,164.6" stroke="#9b0000" stroke-width="3.3"/>
<path d="M289.6,147.3 L294.1,151.1 L298.6,157.1 L303.1,163.1 L304.6,167.6" stroke="#9b0000" stroke-width="3.3"/>
<path d="M303.1,148.1 L307.7,152.6 L312.2,157.1 L315.2,160.1" stroke="#9b0000" stroke-width="3.3"/>
<path d="M252.0,172.6 L258.0,170.3 L264.0,168.8 L270.1,166.5 L276.1,163.5 L282.1,160.5" stroke="#9b0000" stroke-width="3.3"/>
</g>
<rect x="40.50" y="124.80" width="308.00" height="70.60" fill="none" stroke="#383838" stroke-width="1.05"/>
<line x1="79.00" y1="195.40" x2="79.00" y2="192.20" stroke="#262626" stroke-width="1.2"/>
<line x1="79.00" y1="124.80" x2="79.00" y2="128.00" stroke="#262626" stroke-width="1.2"/>
<line x1="117.50" y1="195.40" x2="117.50" y2="192.20" stroke="#262626" stroke-width="1.2"/>
<line x1="117.50" y1="124.80" x2="117.50" y2="128.00" stroke="#262626" stroke-width="1.2"/>
<line x1="156.00" y1="195.40" x2="156.00" y2="192.20" stroke="#262626" stroke-width="1.2"/>
<line x1="156.00" y1="124.80" x2="156.00" y2="128.00" stroke="#262626" stroke-width="1.2"/>
<line x1="194.50" y1="195.40" x2="194.50" y2="192.20" stroke="#262626" stroke-width="1.2"/>
<line x1="194.50" y1="124.80" x2="194.50" y2="128.00" stroke="#262626" stroke-width="1.2"/>
<line x1="233.00" y1="195.40" x2="233.00" y2="192.20" stroke="#262626" stroke-width="1.2"/>
<line x1="233.00" y1="124.80" x2="233.00" y2="128.00" stroke="#262626" stroke-width="1.2"/>
<line x1="271.50" y1="195.40" x2="271.50" y2="192.20" stroke="#262626" stroke-width="1.2"/>
<line x1="271.50" y1="124.80" x2="271.50" y2="128.00" stroke="#262626" stroke-width="1.2"/>
<line x1="310.00" y1="195.40" x2="310.00" y2="192.20" stroke="#262626" stroke-width="1.2"/>
<line x1="310.00" y1="124.80" x2="310.00" y2="128.00" stroke="#262626" stroke-width="1.2"/>
<line x1="40.50" y1="142.45" x2="43.70" y2="142.45" stroke="#262626" stroke-width="1.2"/>
<line x1="348.50" y1="142.45" x2="345.30" y2="142.45" stroke="#262626" stroke-width="1.2"/>
<line x1="40.50" y1="160.10" x2="43.70" y2="160.10" stroke="#262626" stroke-width="1.2"/>
<line x1="348.50" y1="160.10" x2="345.30" y2="160.10" stroke="#262626" stroke-width="1.2"/>
<line x1="40.50" y1="177.75" x2="43.70" y2="177.75" stroke="#262626" stroke-width="1.2"/>
<line x1="348.50" y1="177.75" x2="345.30" y2="177.75" stroke="#262626" stroke-width="1.2"/>
<text transform="translate(37.20,130.30) scale(1.0,1)" text-anchor="end" font-size="12.1" fill="#262626" >0.6</text>
<text transform="translate(37.20,147.95) scale(1.0,1)" text-anchor="end" font-size="12.1" fill="#262626" >0.3</text>
<text transform="translate(37.20,165.60) scale(1.0,1)" text-anchor="end" font-size="12.1" fill="#262626" >0</text>
<text transform="translate(37.20,183.25) scale(1.0,1)" text-anchor="end" font-size="12.1" fill="#262626" >-0.3</text>
<text transform="translate(37.20,200.90) scale(1.0,1)" text-anchor="end" font-size="12.1" fill="#262626" >-0.6</text>
<text transform="translate(46.80,135.40) scale(1.083,1)" text-anchor="start" font-size="11.8" fill="#000" >Along</text>
<line x1="79.00" y1="206.50" x2="79.00" y2="277.10" stroke="#dfdfdf" stroke-width="1"/>
<line x1="117.50" y1="206.50" x2="117.50" y2="277.10" stroke="#dfdfdf" stroke-width="1"/>
<line x1="156.00" y1="206.50" x2="156.00" y2="277.10" stroke="#dfdfdf" stroke-width="1"/>
<line x1="194.50" y1="206.50" x2="194.50" y2="277.10" stroke="#dfdfdf" stroke-width="1"/>
<line x1="233.00" y1="206.50" x2="233.00" y2="277.10" stroke="#dfdfdf" stroke-width="1"/>
<line x1="271.50" y1="206.50" x2="271.50" y2="277.10" stroke="#dfdfdf" stroke-width="1"/>
<line x1="310.00" y1="206.50" x2="310.00" y2="277.10" stroke="#dfdfdf" stroke-width="1"/>
<line x1="40.50" y1="224.15" x2="348.50" y2="224.15" stroke="#dfdfdf" stroke-width="1"/>
<line x1="40.50" y1="241.80" x2="348.50" y2="241.80" stroke="#dfdfdf" stroke-width="1"/>
<line x1="40.50" y1="259.45" x2="348.50" y2="259.45" stroke="#dfdfdf" stroke-width="1"/>
<g fill="none" stroke-width="3.6" stroke-linecap="round" stroke-linejoin="round">
<path d="M155.0,248.1 L161.0,248.8 L167.1,249.6 L173.1,250.3 L180.6,251.1 L188.1,251.8 L195.6,251.8 L203.2,251.1 L210.7,250.3 L218.2,249.6" stroke="#0000b1" stroke-width="3.3"/>
<path d="M288.1,232.3 L294.1,231.5 L300.1,230.8 L306.2,230.0 L312.2,231.5" stroke="#0000b1" stroke-width="3.3"/>
<path d="M59.5,230.0 L67.1,227.0 L74.6,225.5 L82.1,225.5 L89.6,227.0 L95.6,229.3" stroke="#0000d7" stroke-width="3.3"/>
<path d="M195.6,248.1 L203.2,247.3 L210.7,246.6 L218.2,245.8 L225.7,244.3 L233.2,242.8 L239.2,241.3 L246.0,240.6" stroke="#0000d7" stroke-width="3.3"/>
<path d="M246.0,242.1 L252.0,239.8 L258.0,237.5 L264.0,235.3 L270.1,233.0 L276.1,231.5 L282.1,232.3 L288.1,234.5" stroke="#0000d7" stroke-width="3.3"/>
<path d="M221.2,245.7 L232.5,243.4 L243.9,240.0 L253.0,236.6 L262.0,234.3" stroke="#0000d7" stroke-width="3.3"/>
<path d="M40.0,244.3 L46.0,241.3 L52.0,239.1 L58.0,235.3 L64.1,232.3 L70.1,230.8 L76.1,231.5 L82.1,233.0 L88.1,233.0" stroke="#0000fb" stroke-width="3.3"/>
<path d="M207.7,249.6 L215.2,248.8 L222.7,248.1 L230.2,249.6 L236.2,249.6 L246.0,248.1" stroke="#0000fb" stroke-width="3.3"/>
<path d="M246.0,249.6 L252.0,248.1 L258.0,246.6 L264.0,244.3 L270.1,242.8 L276.1,240.6 L282.1,239.1" stroke="#0000fb" stroke-width="3.3"/>
<path d="M336.2,248.1 L342.2,246.6 L349.0,244.3" stroke="#0000fb" stroke-width="3.3"/>
<path d="M239.4,246.8 L253.0,243.4 L266.6,240.0 L277.9,237.7" stroke="#0000fb" stroke-width="3.3"/>
<path d="M98.6,236.0 L103.2,236.8 L107.7,238.3" stroke="#0022ff" stroke-width="3.3"/>
<path d="M303.1,255.6 L309.2,254.1 L315.2,253.3 L321.2,252.6 L327.2,253.3 L333.2,254.1" stroke="#0022ff" stroke-width="3.3"/>
<path d="M327.2,257.1 L333.2,255.6 L339.2,254.1 L345.2,251.8 L349.0,249.6" stroke="#0048ff" stroke-width="3.3"/>
<path d="M315.2,247.3 L321.2,245.8 L327.2,244.3 L333.2,242.8 L339.2,241.3 L345.2,240.6" stroke="#006eff" stroke-width="3.3"/>
<path d="M40.0,242.8 L46.0,243.6 L52.0,245.1 L59.5,245.8 L70.1,246.6" stroke="#0095ff" stroke-width="3.3"/>
<path d="M282.1,248.1 L288.1,250.3 L294.1,252.6 L300.1,254.1 L306.2,254.8 L312.2,254.8" stroke="#0095ff" stroke-width="3.3"/>
<path d="M97.1,247.3 L104.7,245.8 L110.7,244.3" stroke="#00b9ff" stroke-width="3.3"/>
<path d="M173.1,236.0 L179.1,234.5 L185.1,233.0 L192.6,231.5 L200.1,230.8" stroke="#00b9ff" stroke-width="3.3"/>
<path d="M82.1,250.3 L88.1,249.6 L94.1,248.1 L100.2,246.6 L106.2,245.8 L113.7,245.1 L121.2,243.6 L127.2,243.6" stroke="#00dfff" stroke-width="3.3"/>
<path d="M143.0,240.6 L149.0,241.3 L155.0,242.1" stroke="#00dfff" stroke-width="3.3"/>
<path d="M179.1,240.6 L185.1,239.8" stroke="#00dfff" stroke-width="3.3"/>
<path d="M70.1,234.5 L77.6,235.3" stroke="#06fff9" stroke-width="3.3"/>
<path d="M218.2,231.5 L224.2,230.8" stroke="#06fff9" stroke-width="3.3"/>
<path d="M194.0,233.2 L203.1,232.1 L214.4,230.9 L223.5,230.5" stroke="#06fff9" stroke-width="3.3"/>
<path d="M94.1,253.3 L100.2,254.1 L106.2,256.3 L112.2,257.8" stroke="#2cffd3" stroke-width="3.3"/>
<path d="M52.0,249.6 L59.5,248.8 L67.1,246.6 L71.6,245.1" stroke="#52ffad" stroke-width="3.3"/>
<path d="M46.0,232.3 L55.0,231.5 L64.1,232.3 L70.1,234.5 L77.6,236.0 L85.1,236.8" stroke="#78ff87" stroke-width="3.3"/>
<path d="M182.1,232.3 L188.1,233.0" stroke="#78ff87" stroke-width="3.3"/>
<path d="M265.5,232.3 L271.6,231.5 L277.6,232.3" stroke="#78ff87" stroke-width="3.3"/>
<path d="M297.1,245.1 L303.1,244.3 L309.2,243.6 L315.2,242.8" stroke="#78ff87" stroke-width="3.3"/>
<path d="M315.2,239.8 L321.2,237.5 L327.2,235.3 L333.2,233.0 L339.2,231.5 L349.0,230.0" stroke="#78ff87" stroke-width="3.3"/>
<path d="M136.2,244.3 L143.0,243.6" stroke="#9dff62" stroke-width="3.3"/>
<path d="M162.5,244.3 L168.6,242.8 L174.6,241.3 L180.6,239.1 L188.1,236.0 L195.6,233.8 L203.2,230.8 L209.2,228.5 L215.2,226.3 L221.2,224.8 L227.2,223.3" stroke="#c3ff3c" stroke-width="3.3"/>
<path d="M227.2,224.8 L233.2,224.0 L239.2,223.3" stroke="#c3ff3c" stroke-width="3.3"/>
<path d="M252.0,236.0 L258.0,237.5 L262.5,239.8" stroke="#c3ff3c" stroke-width="3.3"/>
<path d="M46.0,254.8 L52.0,254.1 L59.5,253.3 L67.1,252.6 L73.1,251.8" stroke="#e9ff16" stroke-width="3.3"/>
<path d="M168.6,240.6 L173.1,239.8" stroke="#e9ff16" stroke-width="3.3"/>
<path d="M74.6,246.6 L80.6,242.1 L86.6,237.5 L92.6,234.5 L100.2,232.3 L106.2,231.5 L112.2,232.3" stroke="#ffef00" stroke-width="3.3"/>
<path d="M118.2,248.8 L124.2,244.3 L130.2,240.6 L136.2,237.5 L143.0,236.0" stroke="#ffef00" stroke-width="3.3"/>
<path d="M236.2,253.3 L240.7,255.6 L246.0,256.3" stroke="#ffef00" stroke-width="3.3"/>
<path d="M246.0,256.3 L252.0,257.8 L258.0,258.6 L264.0,257.8 L270.1,257.1 L274.6,255.6" stroke="#ffef00" stroke-width="3.3"/>
<path d="M264.0,262.4 L268.6,260.1 L273.1,257.1 L276.1,254.1" stroke="#ffef00" stroke-width="3.3"/>
<path d="M264.0,224.0 L270.1,225.5 L276.1,230.0 L280.6,233.0" stroke="#ffc900" stroke-width="3.3"/>
<path d="M277.6,227.0 L282.1,229.3 L286.6,232.3" stroke="#ffc900" stroke-width="3.3"/>
<path d="M103.2,251.1 L110.7,252.6 L118.2,254.8 L124.2,256.3" stroke="#ffa500" stroke-width="3.3"/>
<path d="M124.2,252.6 L130.2,253.3 L136.2,254.1" stroke="#ffa500" stroke-width="3.3"/>
<path d="M136.2,258.6 L143.0,257.8" stroke="#ffa500" stroke-width="3.3"/>
<path d="M143.0,255.6 L147.5,254.1" stroke="#ffa500" stroke-width="3.3"/>
<path d="M149.0,261.6 L153.5,260.1 L158.0,257.1 L161.0,254.1" stroke="#ffa500" stroke-width="3.3"/>
<path d="M162.5,260.1 L167.1,257.8 L171.6,254.8 L174.6,251.8" stroke="#ffa500" stroke-width="3.3"/>
<path d="M176.1,256.3 L182.1,254.1 L188.1,251.1 L194.1,248.1 L200.1,244.3 L206.2,240.6 L212.2,237.5 L218.2,235.3 L224.2,233.0 L230.2,230.8 L236.2,228.5 L242.2,227.0" stroke="#ffa500" stroke-width="3.3"/>
<path d="M246.0,227.0 L252.0,226.3 L258.0,227.0 L264.0,230.0" stroke="#ffa500" stroke-width="3.3"/>
<path d="M303.1,239.1 L309.2,238.3 L315.2,239.8 L321.2,240.6 L327.2,239.1" stroke="#ffa500" stroke-width="3.3"/>
<path d="M40.0,260.1 L49.0,260.1 L58.0,259.4 L67.1,258.6 L76.1,258.6 L85.1,258.6 L91.1,257.8 L97.1,256.3 L103.2,254.1 L109.2,251.8 L115.2,248.1 L121.2,243.6 L127.2,239.1 L133.2,235.3 L139.2,233.0 L143.0,232.3" stroke="#ff7f00" stroke-width="3.3"/>
<path d="M55.0,255.6 L62.6,255.6 L70.1,254.8" stroke="#ff7f00" stroke-width="3.3"/>
<path d="M143.0,230.0 L150.5,229.3 L158.0,230.8 L165.6,232.3 L173.1,233.0 L180.6,234.5 L188.1,235.3 L195.6,236.0" stroke="#ff7f00" stroke-width="3.3"/>
<path d="M330.2,240.6 L336.2,239.1 L342.2,237.5 L349.0,236.0" stroke="#ff7f00" stroke-width="3.3"/>
<path d="M134.7,248.1 L139.2,247.3 L143.0,247.3" stroke="#ff5900" stroke-width="3.3"/>
<path d="M227.2,238.3 L233.2,239.1 L239.2,238.3 L246.0,237.5" stroke="#ff5900" stroke-width="3.3"/>
<path d="M313.7,250.3 L321.2,251.1 L328.7,251.8 L336.2,252.6 L342.2,252.6" stroke="#ff5900" stroke-width="3.3"/>
<path d="M40.0,233.0 L44.5,234.5 L49.0,236.8 L58.0,236.8 L67.1,236.8 L70.1,236.0" stroke="#ff3200" stroke-width="3.3"/>
<path d="M203.2,245.8 L209.2,244.3 L215.2,242.1 L221.2,240.6" stroke="#f91200" stroke-width="3.3"/>
<path d="M291.1,234.5 L300.1,235.3 L306.2,233.8 L313.7,233.0 L321.2,232.3 L328.7,232.3 L336.2,232.3 L342.2,233.0 L349.0,233.8" stroke="#f91200" stroke-width="3.3"/>
<path d="M339.2,250.3 L345.2,250.3 L349.0,249.6" stroke="#f91200" stroke-width="3.3"/>
<path d="M40.0,250.3 L47.5,251.8 L55.0,253.3 L62.6,251.8 L70.1,250.3" stroke="#e70000" stroke-width="3.3"/>
<path d="M71.6,253.3 L77.6,251.1 L85.1,248.1 L91.1,245.1 L97.1,242.1" stroke="#e70000" stroke-width="3.3"/>
<path d="M143.0,242.1 L149.0,240.6 L155.0,238.3" stroke="#e70000" stroke-width="3.3"/>
<path d="M200.1,244.3 L206.2,242.8 L212.2,241.3 L218.2,239.8 L224.2,237.5 L230.2,236.0 L236.2,233.8 L242.2,232.3 L246.0,230.8" stroke="#e70000" stroke-width="3.3"/>
<path d="M246.0,231.5 L252.0,229.3 L258.0,228.5" stroke="#e70000" stroke-width="3.3"/>
<path d="M261.0,249.6 L268.6,248.8 L276.1,247.3 L283.6,245.1 L291.1,242.8 L297.1,240.6 L303.1,237.5 L309.2,235.3 L315.2,233.8" stroke="#e70000" stroke-width="3.3"/>
<path d="M143.0,246.6 L149.0,243.6 L155.0,240.6 L161.0,238.3 L167.1,236.8" stroke="#c10000" stroke-width="3.3"/>
<path d="M277.6,259.4 L283.6,257.8 L289.6,256.3 L295.6,254.1 L301.6,251.1 L307.7,248.1 L313.7,245.1" stroke="#c10000" stroke-width="3.3"/>
<path d="M76.1,258.6 L82.1,255.6 L85.1,254.1 L85.1,257.1 L89.6,254.1 L95.6,249.6 L100.2,245.8 L106.2,242.1 L112.2,238.3 L118.2,235.3 L124.2,233.0 L130.2,232.3 L136.2,231.5 L143.0,231.5" stroke="#9b0000" stroke-width="3.3"/>
<path d="M143.0,233.0 L149.0,233.0" stroke="#9b0000" stroke-width="3.3"/>
<path d="M149.0,236.8 L155.0,236.0 L161.0,235.3 L167.1,236.8 L173.1,236.8 L179.1,238.3 L185.1,239.8 L191.1,240.6 L198.6,241.3" stroke="#9b0000" stroke-width="3.3"/>
<path d="M264.0,233.0 L270.1,235.3 L276.1,236.0 L282.1,236.8 L288.1,235.3 L294.1,234.5" stroke="#9b0000" stroke-width="3.3"/>
<path d="M249.0,248.8 L255.0,249.6 L261.0,251.8 L267.1,254.1 L273.1,254.8 L277.6,254.1" stroke="#9b0000" stroke-width="3.3"/>
</g>
<rect x="40.50" y="206.50" width="308.00" height="70.60" fill="none" stroke="#383838" stroke-width="1.05"/>
<line x1="79.00" y1="277.10" x2="79.00" y2="273.90" stroke="#262626" stroke-width="1.2"/>
<line x1="79.00" y1="206.50" x2="79.00" y2="209.70" stroke="#262626" stroke-width="1.2"/>
<line x1="117.50" y1="277.10" x2="117.50" y2="273.90" stroke="#262626" stroke-width="1.2"/>
<line x1="117.50" y1="206.50" x2="117.50" y2="209.70" stroke="#262626" stroke-width="1.2"/>
<line x1="156.00" y1="277.10" x2="156.00" y2="273.90" stroke="#262626" stroke-width="1.2"/>
<line x1="156.00" y1="206.50" x2="156.00" y2="209.70" stroke="#262626" stroke-width="1.2"/>
<line x1="194.50" y1="277.10" x2="194.50" y2="273.90" stroke="#262626" stroke-width="1.2"/>
<line x1="194.50" y1="206.50" x2="194.50" y2="209.70" stroke="#262626" stroke-width="1.2"/>
<line x1="233.00" y1="277.10" x2="233.00" y2="273.90" stroke="#262626" stroke-width="1.2"/>
<line x1="233.00" y1="206.50" x2="233.00" y2="209.70" stroke="#262626" stroke-width="1.2"/>
<line x1="271.50" y1="277.10" x2="271.50" y2="273.90" stroke="#262626" stroke-width="1.2"/>
<line x1="271.50" y1="206.50" x2="271.50" y2="209.70" stroke="#262626" stroke-width="1.2"/>
<line x1="310.00" y1="277.10" x2="310.00" y2="273.90" stroke="#262626" stroke-width="1.2"/>
<line x1="310.00" y1="206.50" x2="310.00" y2="209.70" stroke="#262626" stroke-width="1.2"/>
<line x1="40.50" y1="224.15" x2="43.70" y2="224.15" stroke="#262626" stroke-width="1.2"/>
<line x1="348.50" y1="224.15" x2="345.30" y2="224.15" stroke="#262626" stroke-width="1.2"/>
<line x1="40.50" y1="241.80" x2="43.70" y2="241.80" stroke="#262626" stroke-width="1.2"/>
<line x1="348.50" y1="241.80" x2="345.30" y2="241.80" stroke="#262626" stroke-width="1.2"/>
<line x1="40.50" y1="259.45" x2="43.70" y2="259.45" stroke="#262626" stroke-width="1.2"/>
<line x1="348.50" y1="259.45" x2="345.30" y2="259.45" stroke="#262626" stroke-width="1.2"/>
<text transform="translate(37.20,212.00) scale(1.0,1)" text-anchor="end" font-size="12.1" fill="#262626" >1</text>
<text transform="translate(37.20,229.65) scale(1.0,1)" text-anchor="end" font-size="12.1" fill="#262626" >0.5</text>
<text transform="translate(37.20,247.30) scale(1.0,1)" text-anchor="end" font-size="12.1" fill="#262626" >0</text>
<text transform="translate(37.20,264.95) scale(1.0,1)" text-anchor="end" font-size="12.1" fill="#262626" >-0.5</text>
<text transform="translate(37.20,282.60) scale(1.0,1)" text-anchor="end" font-size="12.1" fill="#262626" >-1</text>
<text transform="translate(46.60,217.10) scale(1.055,1)" text-anchor="start" font-size="11.8" fill="#000" >Cross</text>
<text transform="translate(40.50,293.30) scale(1.0,1)" text-anchor="middle" font-size="12.1" fill="#262626" >0</text>
<text transform="translate(79.00,293.30) scale(1.0,1)" text-anchor="middle" font-size="12.1" fill="#262626" >3</text>
<text transform="translate(117.50,293.30) scale(1.0,1)" text-anchor="middle" font-size="12.1" fill="#262626" >6</text>
<text transform="translate(156.00,293.30) scale(1.0,1)" text-anchor="middle" font-size="12.1" fill="#262626" >9</text>
<text transform="translate(194.50,293.30) scale(1.0,1)" text-anchor="middle" font-size="12.1" fill="#262626" >12</text>
<text transform="translate(233.00,293.30) scale(1.0,1)" text-anchor="middle" font-size="12.1" fill="#262626" >15</text>
<text transform="translate(271.50,293.30) scale(1.0,1)" text-anchor="middle" font-size="12.1" fill="#262626" >18</text>
<text transform="translate(310.00,293.30) scale(1.0,1)" text-anchor="middle" font-size="12.1" fill="#262626" >21</text>
<text transform="translate(348.50,293.30) scale(1.0,1)" text-anchor="middle" font-size="12.1" fill="#262626" >24</text>
<text transform="translate(194.50,309.20) scale(1.035,1)" text-anchor="middle" font-size="12.1" fill="#262626" >UTC(h)</text>
<line x1="408.00" y1="42.50" x2="408.00" y2="113.10" stroke="#dfdfdf" stroke-width="1"/>
<line x1="446.50" y1="42.50" x2="446.50" y2="113.10" stroke="#dfdfdf" stroke-width="1"/>
<line x1="485.00" y1="42.50" x2="485.00" y2="113.10" stroke="#dfdfdf" stroke-width="1"/>
<line x1="523.50" y1="42.50" x2="523.50" y2="113.10" stroke="#dfdfdf" stroke-width="1"/>
<line x1="562.00" y1="42.50" x2="562.00" y2="113.10" stroke="#dfdfdf" stroke-width="1"/>
<line x1="600.50" y1="42.50" x2="600.50" y2="113.10" stroke="#dfdfdf" stroke-width="1"/>
<line x1="639.00" y1="42.50" x2="639.00" y2="113.10" stroke="#dfdfdf" stroke-width="1"/>
<line x1="369.50" y1="60.15" x2="677.50" y2="60.15" stroke="#dfdfdf" stroke-width="1"/>
<line x1="369.50" y1="77.80" x2="677.50" y2="77.80" stroke="#dfdfdf" stroke-width="1"/>
<line x1="369.50" y1="95.45" x2="677.50" y2="95.45" stroke="#dfdfdf" stroke-width="1"/>
<g fill="none" stroke-width="3.6" stroke-linecap="round" stroke-linejoin="round">
<path d="M418.6,72.8 L426.1,72.8 L432.2,73.5" stroke="#0000d7" stroke-width="3.3"/>
<path d="M536.7,75.0 L547.2,74.3 L556.2,72.8 L565.2,72.0 L575.0,71.3" stroke="#0000d7" stroke-width="3.3"/>
<path d="M575.0,72.0 L584.0,71.7 L594.5,72.0 L605.1,72.0 L614.1,72.0 L620.1,72.0" stroke="#0000d7" stroke-width="3.3"/>
<path d="M529.1,78.1 L538.2,77.3 L547.2,75.8 L556.2,75.0 L565.2,74.3" stroke="#0000fb" stroke-width="3.3"/>
<path d="M584.0,75.0 L594.5,74.3 L605.1,73.5 L614.1,73.2" stroke="#0000fb" stroke-width="3.3"/>
<path d="M369.0,74.7 L378.0,75.0" stroke="#0022ff" stroke-width="3.3"/>
<path d="M497.6,78.8 L506.6,78.1 L515.6,77.3 L523.1,78.1" stroke="#0022ff" stroke-width="3.3"/>
<path d="M396.1,79.6 L403.6,80.3" stroke="#006eff" stroke-width="3.3"/>
<path d="M624.6,80.3 L635.2,79.6 L644.2,78.8 L653.2,78.4 L662.2,78.1 L671.2,77.8 L678.0,78.1" stroke="#006eff" stroke-width="3.3"/>
<path d="M399.1,74.3 L411.1,75.0 L421.6,75.8 L432.2,75.8 L444.2,76.5 L453.2,77.3 L462.2,78.1 L472.0,78.8" stroke="#00dfff" stroke-width="3.3"/>
<path d="M511.1,87.8 L520.1,88.6 L526.1,87.8" stroke="#00dfff" stroke-width="3.3"/>
<path d="M529.1,89.3 L532.2,88.6" stroke="#00dfff" stroke-width="3.3"/>
<path d="M535.2,84.8 L544.2,84.8" stroke="#00dfff" stroke-width="3.3"/>
<path d="M550.2,84.1 L556.2,83.3 L562.2,82.6" stroke="#00dfff" stroke-width="3.3"/>
<path d="M391.6,72.8 L402.1,72.8 L411.1,72.0 L418.6,70.5 L426.1,70.2 L433.7,71.3 L441.2,72.8 L450.2,73.5 L459.2,74.3 L472.0,75.8" stroke="#06fff9" stroke-width="3.3"/>
<path d="M472.0,76.5 L481.0,77.3 L490.0,78.8 L497.6,80.3" stroke="#06fff9" stroke-width="3.3"/>
<path d="M369.0,77.3 L378.0,78.8 L387.0,80.3 L396.1,80.3" stroke="#52ffad" stroke-width="3.3"/>
<path d="M568.2,77.3 L575.0,78.1" stroke="#52ffad" stroke-width="3.3"/>
<path d="M369.0,70.5 L378.0,70.8 L388.5,72.0 L399.1,72.8 L408.1,74.3 L414.1,75.8" stroke="#78ff87" stroke-width="3.3"/>
<path d="M515.6,73.5 L523.1,73.5" stroke="#78ff87" stroke-width="3.3"/>
<path d="M620.1,81.8 L626.1,81.1" stroke="#78ff87" stroke-width="3.3"/>
<path d="M624.6,78.8 L635.2,76.5 L644.2,75.8 L653.2,75.0 L662.2,74.7 L671.2,74.7 L678.0,74.3" stroke="#78ff87" stroke-width="3.3"/>
<path d="M676.5,70.5 L676.5,75.0" stroke="#78ff87" stroke-width="3.3"/>
<path d="M497.6,81.8 L505.1,81.1" stroke="#c3ff3c" stroke-width="3.3"/>
<path d="M575.0,76.5 L581.0,74.3 L587.0,72.0" stroke="#c3ff3c" stroke-width="3.3"/>
<path d="M435.2,85.6 L444.2,86.3" stroke="#e9ff16" stroke-width="3.3"/>
<path d="M402.1,82.6 L414.1,83.3 L426.1,84.1 L438.2,84.8 L450.2,85.6 L459.2,85.6 L472.0,85.6" stroke="#ffef00" stroke-width="3.3"/>
<path d="M491.5,85.6 L502.1,85.6 L511.1,84.8 L520.1,83.3 L529.1,82.6" stroke="#ffef00" stroke-width="3.3"/>
<path d="M571.2,86.3 L575.0,85.6" stroke="#ffef00" stroke-width="3.3"/>
<path d="M575.0,85.6 L584.0,84.8 L593.0,84.8 L605.1,85.6 L611.1,84.8" stroke="#ffef00" stroke-width="3.3"/>
<path d="M529.1,75.0 L538.2,72.0 L547.2,70.5 L556.2,69.8 L565.2,69.0 L575.0,68.7" stroke="#ffc900" stroke-width="3.3"/>
<path d="M575.0,68.3 L590.0,68.3 L605.1,68.7 L620.1,69.0 L635.2,69.0 L647.2,67.8 L659.2,66.3 L668.2,64.8 L674.2,63.8" stroke="#ffc900" stroke-width="3.3"/>
<path d="M369.0,84.1 L378.0,83.8 L387.0,83.3 L396.1,83.3 L405.1,84.1 L414.1,84.8 L423.1,85.6 L432.2,86.3 L441.2,86.3 L450.2,86.3 L459.2,85.6 L472.0,84.8" stroke="#ffa500" stroke-width="3.3"/>
<path d="M426.1,89.3 L435.2,92.3 L441.2,94.6 L448.7,96.8 L456.2,99.1 L465.2,102.1 L472.0,102.1" stroke="#ffa500" stroke-width="3.3"/>
<path d="M472.0,88.6 L484.0,87.1 L494.6,85.6" stroke="#ffa500" stroke-width="3.3"/>
<path d="M548.7,93.8 L556.2,95.3 L563.7,96.4 L571.2,96.8" stroke="#ffa500" stroke-width="3.3"/>
<path d="M369.0,86.3 L378.0,84.8 L387.0,84.5 L399.1,84.8 L408.1,85.6 L417.1,87.1 L426.1,88.6 L435.2,90.1 L447.2,90.1 L456.2,89.3 L465.2,88.9 L472.0,88.6" stroke="#ff7f00" stroke-width="3.3"/>
<path d="M472.0,87.8 L481.0,86.3 L490.0,84.8 L499.1,83.3 L508.1,81.8 L517.1,80.3 L526.1,79.6 L535.2,79.6 L544.2,79.6 L553.2,79.6 L562.2,79.6" stroke="#ff7f00" stroke-width="3.3"/>
<path d="M585.5,92.3 L594.5,91.6 L605.1,90.1 L614.1,89.3 L624.6,89.3 L635.2,89.3 L644.2,90.1 L653.2,91.6 L662.2,93.1 L671.2,93.8 L675.0,94.6" stroke="#ff7f00" stroke-width="3.3"/>
<path d="M650.2,84.8 L659.2,84.1 L668.2,82.9 L674.2,81.1" stroke="#ff5900" stroke-width="3.3"/>
<path d="M369.0,96.1 L378.0,97.6 L388.5,99.1 L397.6,100.6" stroke="#ff3200" stroke-width="3.3"/>
<path d="M472.0,99.1 L481.0,98.4 L490.0,97.6" stroke="#ff3200" stroke-width="3.3"/>
<path d="M585.5,102.1 L594.5,101.4 L605.1,100.6 L614.1,99.9 L624.6,99.1 L635.2,98.4 L644.2,97.9 L653.2,97.6 L662.2,97.3 L671.2,97.6 L675.8,98.4" stroke="#f91200" stroke-width="3.3"/>
<path d="M381.0,74.3 L388.5,74.7 L396.1,75.8 L403.6,77.3 L408.1,78.8" stroke="#e70000" stroke-width="3.3"/>
<path d="M469.8,74.3 L472.0,73.8" stroke="#e70000" stroke-width="3.3"/>
<path d="M529.1,77.3 L538.2,77.3 L547.2,77.8 L556.2,78.1 L562.2,78.8 L568.2,80.3 L575.0,82.6" stroke="#e70000" stroke-width="3.3"/>
<path d="M575.0,81.8 L581.0,83.3 L586.3,83.8" stroke="#e70000" stroke-width="3.3"/>
<path d="M593.0,84.1 L599.1,82.6 L605.1,80.3 L611.1,81.8 L617.1,84.1 L626.1,85.6" stroke="#e70000" stroke-width="3.3"/>
<path d="M676.5,81.1 L676.5,100.6" stroke="#e70000" stroke-width="3.3"/>
<path d="M472.0,73.5 L481.0,73.5 L491.5,74.3 L502.1,75.0 L511.1,75.8 L520.1,76.5 L529.1,76.5" stroke="#c10000" stroke-width="3.3"/>
<path d="M587.0,79.6 L596.1,78.1 L605.1,76.5 L614.1,75.0 L623.1,74.3 L632.1,73.5 L641.2,73.5 L644.2,73.8" stroke="#c10000" stroke-width="3.3"/>
<path d="M405.1,78.8 L414.1,78.1 L423.1,78.1 L432.2,78.8 L441.2,79.6 L450.2,80.3 L459.2,81.1 L472.0,81.8" stroke="#9b0000" stroke-width="3.3"/>
<path d="M472.0,81.8 L481.0,82.6 L491.5,83.8" stroke="#9b0000" stroke-width="3.3"/>
</g>
<rect x="369.50" y="42.50" width="308.00" height="70.60" fill="none" stroke="#383838" stroke-width="1.05"/>
<line x1="408.00" y1="113.10" x2="408.00" y2="109.90" stroke="#262626" stroke-width="1.2"/>
<line x1="408.00" y1="42.50" x2="408.00" y2="45.70" stroke="#262626" stroke-width="1.2"/>
<line x1="446.50" y1="113.10" x2="446.50" y2="109.90" stroke="#262626" stroke-width="1.2"/>
<line x1="446.50" y1="42.50" x2="446.50" y2="45.70" stroke="#262626" stroke-width="1.2"/>
<line x1="485.00" y1="113.10" x2="485.00" y2="109.90" stroke="#262626" stroke-width="1.2"/>
<line x1="485.00" y1="42.50" x2="485.00" y2="45.70" stroke="#262626" stroke-width="1.2"/>
<line x1="523.50" y1="113.10" x2="523.50" y2="109.90" stroke="#262626" stroke-width="1.2"/>
<line x1="523.50" y1="42.50" x2="523.50" y2="45.70" stroke="#262626" stroke-width="1.2"/>
<line x1="562.00" y1="113.10" x2="562.00" y2="109.90" stroke="#262626" stroke-width="1.2"/>
<line x1="562.00" y1="42.50" x2="562.00" y2="45.70" stroke="#262626" stroke-width="1.2"/>
<line x1="600.50" y1="113.10" x2="600.50" y2="109.90" stroke="#262626" stroke-width="1.2"/>
<line x1="600.50" y1="42.50" x2="600.50" y2="45.70" stroke="#262626" stroke-width="1.2"/>
<line x1="639.00" y1="113.10" x2="639.00" y2="109.90" stroke="#262626" stroke-width="1.2"/>
<line x1="639.00" y1="42.50" x2="639.00" y2="45.70" stroke="#262626" stroke-width="1.2"/>
<line x1="369.50" y1="60.15" x2="372.70" y2="60.15" stroke="#262626" stroke-width="1.2"/>
<line x1="677.50" y1="60.15" x2="674.30" y2="60.15" stroke="#262626" stroke-width="1.2"/>
<line x1="369.50" y1="77.80" x2="372.70" y2="77.80" stroke="#262626" stroke-width="1.2"/>
<line x1="677.50" y1="77.80" x2="674.30" y2="77.80" stroke="#262626" stroke-width="1.2"/>
<line x1="369.50" y1="95.45" x2="372.70" y2="95.45" stroke="#262626" stroke-width="1.2"/>
<line x1="677.50" y1="95.45" x2="674.30" y2="95.45" stroke="#262626" stroke-width="1.2"/>
<text transform="translate(375.50,53.10) scale(1.08,1)" text-anchor="start" font-size="11.8" fill="#000" >Radial</text>
<line x1="408.00" y1="124.80" x2="408.00" y2="195.40" stroke="#dfdfdf" stroke-width="1"/>
<line x1="446.50" y1="124.80" x2="446.50" y2="195.40" stroke="#dfdfdf" stroke-width="1"/>
<line x1="485.00" y1="124.80" x2="485.00" y2="195.40" stroke="#dfdfdf" stroke-width="1"/>
<line x1="523.50" y1="124.80" x2="523.50" y2="195.40" stroke="#dfdfdf" stroke-width="1"/>
<line x1="562.00" y1="124.80" x2="562.00" y2="195.40" stroke="#dfdfdf" stroke-width="1"/>
<line x1="600.50" y1="124.80" x2="600.50" y2="195.40" stroke="#dfdfdf" stroke-width="1"/>
<line x1="639.00" y1="124.80" x2="639.00" y2="195.40" stroke="#dfdfdf" stroke-width="1"/>
<line x1="369.50" y1="142.45" x2="677.50" y2="142.45" stroke="#dfdfdf" stroke-width="1"/>
<line x1="369.50" y1="160.10" x2="677.50" y2="160.10" stroke="#dfdfdf" stroke-width="1"/>
<line x1="369.50" y1="177.75" x2="677.50" y2="177.75" stroke="#dfdfdf" stroke-width="1"/>
<g fill="none" stroke-width="3.6" stroke-linecap="round" stroke-linejoin="round">
<path d="M484.0,145.8 L491.5,143.5 L499.1,142.8 L506.6,141.3 L514.1,140.2 L521.6,140.5 L529.1,139.8 L536.7,140.5 L544.2,141.3 L551.7,142.0 L559.2,143.5 L566.7,145.1 L575.0,147.3" stroke="#0000b1" stroke-width="3.3"/>
<path d="M575.0,147.3 L581.0,146.6 L587.0,146.6 L591.5,148.1 L597.6,151.8" stroke="#0000b1" stroke-width="3.3"/>
<path d="M378.0,154.8 L384.0,157.1 L390.1,159.3 L396.1,161.6 L402.1,163.8 L408.1,164.6 L414.1,166.1 L420.1,166.9 L424.6,166.1" stroke="#0000d7" stroke-width="3.3"/>
<path d="M393.1,147.3 L399.1,146.6" stroke="#0000d7" stroke-width="3.3"/>
<path d="M379.5,155.3 L385.5,157.5 L393.1,160.5 L399.1,162.8 L405.1,164.3 L411.1,165.8 L417.1,166.5 L423.1,165.8" stroke="#0000d7" stroke-width="3.3"/>
<path d="M575.0,148.8 L581.0,150.3 L585.5,151.8" stroke="#0000d7" stroke-width="3.3"/>
<path d="M605.1,146.6 L611.1,148.1 L617.1,151.1 L623.1,151.8" stroke="#0000d7" stroke-width="3.3"/>
<path d="M524.6,153.3 L532.2,152.6 L539.7,151.8 L547.2,150.3 L554.7,149.6 L562.2,148.8 L569.7,148.1 L575.0,147.3" stroke="#0000fb" stroke-width="3.3"/>
<path d="M602.1,156.3 L609.6,155.6 L617.1,154.8 L624.6,153.3" stroke="#0000fb" stroke-width="3.3"/>
<path d="M369.0,145.8 L375.0,144.3 L381.0,143.5 L388.5,143.2 L393.1,144.3 L399.1,146.6 L403.6,147.3" stroke="#0022ff" stroke-width="3.3"/>
<path d="M620.1,154.8 L627.6,154.1 L635.2,153.3 L642.7,154.1 L650.2,155.6" stroke="#0022ff" stroke-width="3.3"/>
<path d="M641.2,149.6 L648.7,147.3 L656.2,145.8 L662.2,143.5 L668.2,140.5 L672.7,137.5 L678.0,133.0" stroke="#006eff" stroke-width="3.3"/>
<path d="M539.7,151.1 L547.2,152.6 L554.7,151.1 L562.2,148.8" stroke="#0095ff" stroke-width="3.3"/>
<path d="M391.6,159.3 L399.1,160.8 L406.6,163.1 L414.1,164.6 L421.6,166.1 L429.2,166.9 L436.7,167.6 L444.2,168.4 L451.7,169.1 L459.2,169.9" stroke="#00b9ff" stroke-width="3.3"/>
<path d="M402.1,156.8 L408.1,159.0 L414.1,161.3 L421.6,163.5 L429.2,166.5 L436.7,168.0 L444.2,168.0 L451.7,167.3 L459.2,168.0 L465.2,169.5 L472.0,171.1" stroke="#00b9ff" stroke-width="3.3"/>
<path d="M472.0,170.3 L478.0,174.1 L484.0,175.6 L490.0,176.3 L496.1,175.6" stroke="#00b9ff" stroke-width="3.3"/>
<path d="M641.2,151.1 L650.2,149.6 L659.2,146.6 L668.2,145.1 L674.2,144.3" stroke="#00b9ff" stroke-width="3.3"/>
<path d="M432.2,146.6 L439.7,149.6 L447.2,153.3 L454.7,155.6 L462.2,157.8 L472.0,159.3" stroke="#00dfff" stroke-width="3.3"/>
<path d="M441.2,152.3 L447.2,154.5 L453.2,156.8 L462.2,158.3 L472.0,159.0" stroke="#00dfff" stroke-width="3.3"/>
<path d="M509.6,163.1 L517.1,161.6 L524.6,158.6 L532.2,157.1 L539.7,155.6 L547.2,154.1 L554.7,151.8" stroke="#00dfff" stroke-width="3.3"/>
<path d="M487.0,158.6 L494.6,160.1 L502.1,160.1" stroke="#00dfff" stroke-width="3.3"/>
<path d="M508.1,165.0 L514.1,164.3 L520.1,162.8" stroke="#00dfff" stroke-width="3.3"/>
<path d="M369.0,154.1 L375.0,155.6 L381.0,157.1 L387.0,157.8 L393.1,158.6 L399.1,159.3" stroke="#06fff9" stroke-width="3.3"/>
<path d="M490.0,148.8 L497.6,149.6 L505.1,150.3 L512.6,151.1" stroke="#06fff9" stroke-width="3.3"/>
<path d="M414.1,158.6 L421.6,160.1" stroke="#2cffd3" stroke-width="3.3"/>
<path d="M472.0,153.3 L478.0,152.6 L484.0,154.1 L490.0,156.3 L496.1,157.8" stroke="#2cffd3" stroke-width="3.3"/>
<path d="M369.0,163.1 L375.0,164.6 L381.0,166.9 L387.0,168.4 L393.1,169.1" stroke="#78ff87" stroke-width="3.3"/>
<path d="M369.0,164.3 L375.0,165.0 L381.0,168.0 L387.0,169.5 L393.1,168.8 L399.1,167.3 L405.1,166.5 L409.6,165.0" stroke="#78ff87" stroke-width="3.3"/>
<path d="M565.2,152.6 L571.2,154.1 L575.0,156.3" stroke="#78ff87" stroke-width="3.3"/>
<path d="M612.6,163.1 L620.1,161.6 L627.6,160.1" stroke="#78ff87" stroke-width="3.3"/>
<path d="M656.2,157.8 L662.2,160.1 L668.2,162.3 L674.2,163.1" stroke="#78ff87" stroke-width="3.3"/>
<path d="M575.0,158.3 L581.0,161.3 L587.0,164.3 L593.0,165.8" stroke="#78ff87" stroke-width="3.3"/>
<path d="M612.6,164.3 L620.1,162.8 L626.1,161.3" stroke="#78ff87" stroke-width="3.3"/>
<path d="M659.2,159.0 L668.2,162.0 L674.2,164.3" stroke="#78ff87" stroke-width="3.3"/>
<path d="M369.0,151.8 L375.0,149.6 L381.0,147.3 L388.5,145.1 L397.6,143.5" stroke="#9dff62" stroke-width="3.3"/>
<path d="M624.6,148.8 L630.6,150.3" stroke="#9dff62" stroke-width="3.3"/>
<path d="M514.1,155.6 L521.6,151.8 L529.1,148.1 L535.2,146.6 L542.7,148.1 L550.2,151.1" stroke="#c3ff3c" stroke-width="3.3"/>
<path d="M505.1,164.6 L506.6,169.1" stroke="#c3ff3c" stroke-width="3.3"/>
<path d="M496.1,168.8 L502.1,166.5 L506.6,163.5 L509.6,162.0" stroke="#c3ff3c" stroke-width="3.3"/>
<path d="M575.0,162.3 L581.0,164.6 L587.0,166.9" stroke="#c3ff3c" stroke-width="3.3"/>
<path d="M369.0,159.3 L376.5,158.6 L384.0,156.3 L391.6,154.1 L399.1,151.8 L406.6,148.8" stroke="#e9ff16" stroke-width="3.3"/>
<path d="M369.0,159.0 L376.5,158.3 L384.0,156.8" stroke="#e9ff16" stroke-width="3.3"/>
<path d="M436.7,142.0 L444.2,140.5 L451.7,139.8 L459.2,142.0 L465.2,145.1 L468.2,148.1" stroke="#ffef00" stroke-width="3.3"/>
<path d="M441.2,163.8 L448.7,164.6 L456.2,163.8 L465.2,163.1 L472.0,162.3" stroke="#ffef00" stroke-width="3.3"/>
<path d="M444.2,163.5 L451.7,163.5 L459.2,162.8 L466.7,162.0 L472.0,161.3" stroke="#ffef00" stroke-width="3.3"/>
<path d="M529.1,145.8 L536.7,145.1 L542.7,146.6" stroke="#ffef00" stroke-width="3.3"/>
<path d="M472.0,153.3 L476.5,153.3" stroke="#ffef00" stroke-width="3.3"/>
<path d="M575.0,157.8 L582.5,157.1 L590.0,155.6 L597.6,152.6 L605.1,151.1 L612.6,150.3" stroke="#ffef00" stroke-width="3.3"/>
<path d="M575.0,157.5 L582.5,156.8 L590.0,156.0 L597.6,154.5 L605.1,152.3 L611.1,150.8" stroke="#ffef00" stroke-width="3.3"/>
<path d="M369.0,157.8 L376.5,157.8 L384.0,157.1" stroke="#ffc900" stroke-width="3.3"/>
<path d="M562.2,157.5 L568.2,161.3 L575.0,164.3" stroke="#ffc900" stroke-width="3.3"/>
<path d="M502.1,153.3 L509.6,151.1 L517.1,148.8 L524.6,146.6 L532.2,145.1 L539.7,146.6 L547.2,149.6 L554.7,153.3 L562.2,157.1 L569.7,160.8 L575.0,163.1" stroke="#ffa500" stroke-width="3.3"/>
<path d="M627.6,166.9 L635.2,163.1 L641.2,160.1 L648.7,157.8 L656.2,156.3 L665.2,155.6 L672.7,154.1 L678.0,154.1" stroke="#ffa500" stroke-width="3.3"/>
<path d="M627.6,167.3 L635.2,165.0 L641.2,162.8 L648.7,160.5 L656.2,158.3" stroke="#ffa500" stroke-width="3.3"/>
<path d="M402.1,170.6 L408.1,167.6 L414.1,164.6 L420.1,161.6 L426.1,158.6 L432.2,154.8 L438.2,151.1 L444.2,147.3 L450.2,145.8 L456.2,146.6 L462.2,148.1 L468.2,150.3 L472.0,152.6" stroke="#ff7f00" stroke-width="3.3"/>
<path d="M369.0,173.3 L378.0,173.3 L387.0,172.6 L396.1,171.1 L405.1,168.8 L412.6,165.8 L420.1,162.0 L426.1,158.3 L432.2,154.5 L438.2,150.8" stroke="#ff7f00" stroke-width="3.3"/>
<path d="M472.0,160.8 L479.5,162.3 L487.0,164.6 L494.6,166.9 L502.1,168.4 L509.6,169.9" stroke="#ff7f00" stroke-width="3.3"/>
<path d="M472.0,159.0 L479.5,162.0 L487.0,165.0 L494.6,167.3 L502.1,168.8 L509.6,170.3 L517.1,171.8 L524.6,172.6 L532.2,173.3 L539.7,173.3 L547.2,172.6 L554.7,171.8 L562.2,169.5 L569.7,168.0 L575.0,167.3" stroke="#ff7f00" stroke-width="3.3"/>
<path d="M575.0,164.6 L581.0,166.9 L584.0,169.1" stroke="#ff7f00" stroke-width="3.3"/>
<path d="M575.0,165.0 L581.0,167.3 L587.0,169.5 L593.0,171.1" stroke="#ff7f00" stroke-width="3.3"/>
<path d="M369.0,167.6 L375.0,168.4 L381.0,167.6 L387.0,165.4 L393.1,163.8 L397.6,163.1" stroke="#ff5900" stroke-width="3.3"/>
<path d="M369.0,168.0 L375.0,167.3 L381.0,166.5 L387.0,165.0 L393.1,163.5 L397.6,162.8" stroke="#ff5900" stroke-width="3.3"/>
<path d="M556.2,169.9 L565.2,169.1" stroke="#ff5900" stroke-width="3.3"/>
<path d="M650.2,169.9 L659.2,167.6 L668.2,165.4 L674.2,163.1 L678.0,161.6" stroke="#ff5900" stroke-width="3.3"/>
<path d="M650.2,171.8 L659.2,169.5 L668.2,167.3 L674.2,165.0 L678.0,164.3" stroke="#ff5900" stroke-width="3.3"/>
<path d="M671.2,159.3 L678.0,160.1" stroke="#ff3200" stroke-width="3.3"/>
<path d="M665.2,159.8 L671.2,161.3 L677.3,162.8" stroke="#ff3200" stroke-width="3.3"/>
<path d="M533.7,164.6 L539.7,163.8 L547.2,163.1 L554.7,163.8 L562.2,166.1 L569.7,168.4 L575.0,169.9" stroke="#f91200" stroke-width="3.3"/>
<path d="M587.0,145.8 L596.1,144.3 L605.1,143.2 L614.1,142.8 L620.1,143.2 L626.1,145.1 L632.1,147.3 L638.2,149.6 L644.2,151.8 L650.2,154.1 L656.2,155.6 L665.2,156.3 L671.2,157.1 L678.0,157.8" stroke="#f91200" stroke-width="3.3"/>
<path d="M602.1,172.6 L608.1,173.3 L614.1,172.6 L620.1,170.3 L626.1,168.0" stroke="#f91200" stroke-width="3.3"/>
<path d="M381.0,156.3 L388.5,155.6 L396.1,154.8 L403.6,153.3 L411.1,151.8 L417.1,151.8 L423.1,153.3 L427.6,154.8" stroke="#e70000" stroke-width="3.3"/>
<path d="M469.8,147.3 L472.0,148.1" stroke="#e70000" stroke-width="3.3"/>
<path d="M381.0,156.0 L388.5,156.8 L396.1,156.0 L403.6,154.5 L411.1,153.0 L418.6,152.3 L426.1,153.8" stroke="#e70000" stroke-width="3.3"/>
<path d="M533.7,164.3 L539.7,163.5 L547.2,162.8 L554.7,163.5 L562.2,166.5 L568.2,168.8 L575.0,170.3" stroke="#e70000" stroke-width="3.3"/>
<path d="M593.0,169.1 L599.1,167.6 L605.1,165.4 L609.6,163.1" stroke="#e70000" stroke-width="3.3"/>
<path d="M611.1,169.1 L620.1,168.4 L626.1,167.6" stroke="#e70000" stroke-width="3.3"/>
<path d="M575.0,171.1 L581.0,171.1 L585.5,170.3" stroke="#e70000" stroke-width="3.3"/>
<path d="M593.0,171.8 L599.1,169.5 L605.1,167.3 L611.1,165.0 L615.6,163.5" stroke="#e70000" stroke-width="3.3"/>
<path d="M472.0,156.3 L479.5,155.6 L487.0,154.1 L491.5,152.6" stroke="#c10000" stroke-width="3.3"/>
<path d="M587.0,161.6 L594.5,162.3 L602.1,162.3 L608.1,161.6 L614.1,159.3 L620.1,157.1 L626.1,155.6 L632.1,154.8 L638.2,154.1 L644.2,154.8" stroke="#c10000" stroke-width="3.3"/>
<path d="M587.0,161.3 L594.5,162.0 L602.1,162.0 L608.1,161.3 L614.1,159.8 L620.1,157.5 L626.1,156.0 L632.1,154.5 L638.2,153.8 L644.2,154.5" stroke="#c10000" stroke-width="3.3"/>
<path d="M403.6,151.8 L411.1,149.6 L418.6,146.6 L426.1,145.1 L432.2,144.3 L438.2,145.8 L444.2,148.1 L450.2,150.3 L456.2,152.6 L462.2,154.1 L468.2,155.6 L472.0,156.3" stroke="#9b0000" stroke-width="3.3"/>
<path d="M472.0,149.6 L479.5,151.1 L487.0,153.3 L494.6,154.8 L502.1,156.3 L511.1,157.8 L520.1,159.3 L529.1,160.8" stroke="#9b0000" stroke-width="3.3"/>
<path d="M472.0,154.5 L481.0,153.0 L490.0,155.3 L499.1,156.8 L508.1,158.3 L517.1,159.8 L527.6,161.3" stroke="#9b0000" stroke-width="3.3"/>
</g>
<rect x="369.50" y="124.80" width="308.00" height="70.60" fill="none" stroke="#383838" stroke-width="1.05"/>
<line x1="408.00" y1="195.40" x2="408.00" y2="192.20" stroke="#262626" stroke-width="1.2"/>
<line x1="408.00" y1="124.80" x2="408.00" y2="128.00" stroke="#262626" stroke-width="1.2"/>
<line x1="446.50" y1="195.40" x2="446.50" y2="192.20" stroke="#262626" stroke-width="1.2"/>
<line x1="446.50" y1="124.80" x2="446.50" y2="128.00" stroke="#262626" stroke-width="1.2"/>
<line x1="485.00" y1="195.40" x2="485.00" y2="192.20" stroke="#262626" stroke-width="1.2"/>
<line x1="485.00" y1="124.80" x2="485.00" y2="128.00" stroke="#262626" stroke-width="1.2"/>
<line x1="523.50" y1="195.40" x2="523.50" y2="192.20" stroke="#262626" stroke-width="1.2"/>
<line x1="523.50" y1="124.80" x2="523.50" y2="128.00" stroke="#262626" stroke-width="1.2"/>
<line x1="562.00" y1="195.40" x2="562.00" y2="192.20" stroke="#262626" stroke-width="1.2"/>
<line x1="562.00" y1="124.80" x2="562.00" y2="128.00" stroke="#262626" stroke-width="1.2"/>
<line x1="600.50" y1="195.40" x2="600.50" y2="192.20" stroke="#262626" stroke-width="1.2"/>
<line x1="600.50" y1="124.80" x2="600.50" y2="128.00" stroke="#262626" stroke-width="1.2"/>
<line x1="639.00" y1="195.40" x2="639.00" y2="192.20" stroke="#262626" stroke-width="1.2"/>
<line x1="639.00" y1="124.80" x2="639.00" y2="128.00" stroke="#262626" stroke-width="1.2"/>
<line x1="369.50" y1="142.45" x2="372.70" y2="142.45" stroke="#262626" stroke-width="1.2"/>
<line x1="677.50" y1="142.45" x2="674.30" y2="142.45" stroke="#262626" stroke-width="1.2"/>
<line x1="369.50" y1="160.10" x2="372.70" y2="160.10" stroke="#262626" stroke-width="1.2"/>
<line x1="677.50" y1="160.10" x2="674.30" y2="160.10" stroke="#262626" stroke-width="1.2"/>
<line x1="369.50" y1="177.75" x2="372.70" y2="177.75" stroke="#262626" stroke-width="1.2"/>
<line x1="677.50" y1="177.75" x2="674.30" y2="177.75" stroke="#262626" stroke-width="1.2"/>
<text transform="translate(375.60,135.40) scale(1.0,1)" text-anchor="start" font-size="11.8" fill="#000" >Along</text>
<line x1="408.00" y1="206.50" x2="408.00" y2="277.10" stroke="#dfdfdf" stroke-width="1"/>
<line x1="446.50" y1="206.50" x2="446.50" y2="277.10" stroke="#dfdfdf" stroke-width="1"/>
<line x1="485.00" y1="206.50" x2="485.00" y2="277.10" stroke="#dfdfdf" stroke-width="1"/>
<line x1="523.50" y1="206.50" x2="523.50" y2="277.10" stroke="#dfdfdf" stroke-width="1"/>
<line x1="562.00" y1="206.50" x2="562.00" y2="277.10" stroke="#dfdfdf" stroke-width="1"/>
<line x1="600.50" y1="206.50" x2="600.50" y2="277.10" stroke="#dfdfdf" stroke-width="1"/>
<line x1="639.00" y1="206.50" x2="639.00" y2="277.10" stroke="#dfdfdf" stroke-width="1"/>
<line x1="369.50" y1="224.15" x2="677.50" y2="224.15" stroke="#dfdfdf" stroke-width="1"/>
<line x1="369.50" y1="241.80" x2="677.50" y2="241.80" stroke="#dfdfdf" stroke-width="1"/>
<line x1="369.50" y1="259.45" x2="677.50" y2="259.45" stroke="#dfdfdf" stroke-width="1"/>
<g fill="none" stroke-width="3.6" stroke-linecap="round" stroke-linejoin="round">
<path d="M484.0,248.1 L491.5,247.3 L499.1,247.3 L506.6,248.1 L514.1,248.8 L521.6,249.6 L529.1,248.8 L536.7,247.3 L544.2,245.8 L551.7,245.1 L559.2,245.1 L568.2,244.3 L575.0,244.3" stroke="#0000b1" stroke-width="3.3"/>
<path d="M617.1,233.8 L624.6,233.8 L632.1,234.5" stroke="#0000b1" stroke-width="3.3"/>
<path d="M382.5,234.5 L390.1,232.3 L397.6,231.2 L405.1,230.8 L412.6,230.8 L420.1,231.5 L424.6,233.0" stroke="#0000d7" stroke-width="3.3"/>
<path d="M538.2,246.6 L547.2,245.1 L556.2,243.6 L565.2,242.8 L575.0,242.1" stroke="#0000d7" stroke-width="3.3"/>
<path d="M575.0,242.1 L581.0,240.6 L587.0,239.1 L593.0,238.3 L599.1,239.1 L605.1,238.3 L611.1,236.8" stroke="#0000d7" stroke-width="3.3"/>
<path d="M399.1,236.0 L406.6,235.3 L414.1,234.8 L421.6,235.3 L426.1,236.8 L432.2,237.5 L438.2,238.3" stroke="#0000fb" stroke-width="3.3"/>
<path d="M499.1,245.8 L506.6,245.8 L514.1,246.6" stroke="#0000fb" stroke-width="3.3"/>
<path d="M575.0,246.6 L584.0,245.1 L593.0,244.3 L602.1,242.8 L608.1,242.1" stroke="#0000fb" stroke-width="3.3"/>
<path d="M369.0,244.3 L375.0,243.6 L381.0,242.1 L387.0,241.3" stroke="#0022ff" stroke-width="3.3"/>
<path d="M647.2,244.3 L653.2,243.6 L659.2,242.1 L665.2,241.3 L671.2,240.6 L678.0,239.8" stroke="#0022ff" stroke-width="3.3"/>
<path d="M675.8,248.1 L678.0,254.1" stroke="#0048ff" stroke-width="3.3"/>
<path d="M624.6,247.3 L632.1,248.1 L638.2,249.6" stroke="#006eff" stroke-width="3.3"/>
<path d="M450.2,246.6 L456.2,245.8 L462.2,245.1" stroke="#0095ff" stroke-width="3.3"/>
<path d="M472.0,241.3 L476.5,240.6" stroke="#0095ff" stroke-width="3.3"/>
<path d="M602.1,248.8 L608.1,249.6 L614.1,250.3" stroke="#0095ff" stroke-width="3.3"/>
<path d="M635.2,251.1 L642.7,250.3 L650.2,249.6 L657.7,248.8 L665.2,247.3 L671.2,245.8" stroke="#0095ff" stroke-width="3.3"/>
<path d="M647.2,247.3 L653.2,247.3" stroke="#00b9ff" stroke-width="3.3"/>
<path d="M393.1,245.8 L399.1,246.6 L406.6,247.3 L414.1,246.6 L420.1,245.1 L426.1,244.3 L432.2,243.6 L438.2,242.8 L444.2,242.1 L450.2,241.3 L456.2,241.3 L462.2,242.1" stroke="#00dfff" stroke-width="3.3"/>
<path d="M479.5,245.8 L487.0,245.1 L494.6,244.3" stroke="#00dfff" stroke-width="3.3"/>
<path d="M369.0,245.8 L375.0,246.6 L381.0,245.8" stroke="#06fff9" stroke-width="3.3"/>
<path d="M532.2,237.5 L538.2,236.8 L544.2,236.0" stroke="#06fff9" stroke-width="3.3"/>
<path d="M441.2,254.1 L447.2,253.3 L453.2,252.6" stroke="#2cffd3" stroke-width="3.3"/>
<path d="M391.6,244.3 L397.6,243.6" stroke="#52ffad" stroke-width="3.3"/>
<path d="M369.0,236.0 L376.5,236.0 L384.0,236.8 L391.6,238.3 L399.1,239.1 L408.1,239.8 L414.1,239.1" stroke="#78ff87" stroke-width="3.3"/>
<path d="M514.1,237.5 L521.6,236.8" stroke="#78ff87" stroke-width="3.3"/>
<path d="M624.6,242.1 L632.1,240.6 L639.7,239.8 L647.2,239.1" stroke="#78ff87" stroke-width="3.3"/>
<path d="M665.2,233.8 L671.2,233.0 L678.0,233.0" stroke="#78ff87" stroke-width="3.3"/>
<path d="M524.6,237.5 L532.2,233.8 L539.7,230.8 L547.2,228.5 L554.7,227.8 L562.2,227.8 L566.7,228.5" stroke="#c3ff3c" stroke-width="3.3"/>
<path d="M585.5,239.1 L588.5,240.6" stroke="#c3ff3c" stroke-width="3.3"/>
<path d="M439.7,254.1 L445.7,251.1 L453.2,246.6 L459.2,242.8 L465.2,240.6" stroke="#e9ff16" stroke-width="3.3"/>
<path d="M369.0,248.8 L378.0,249.6 L387.0,248.8 L396.1,246.6 L405.1,243.6 L412.6,240.6 L420.1,237.5 L427.6,236.0 L435.2,235.3 L442.7,235.3 L450.2,236.0 L459.2,236.8 L465.2,236.8 L472.0,236.0" stroke="#ffef00" stroke-width="3.3"/>
<path d="M484.0,235.3 L493.1,235.3 L502.1,236.0 L511.1,236.8" stroke="#ffef00" stroke-width="3.3"/>
<path d="M573.5,251.8 L575.0,252.6" stroke="#ffef00" stroke-width="3.3"/>
<path d="M575.0,251.8 L581.0,253.3 L587.0,254.8 L593.0,255.6 L599.1,255.6 L603.6,254.8" stroke="#ffef00" stroke-width="3.3"/>
<path d="M609.6,250.3 L612.6,251.1" stroke="#ffef00" stroke-width="3.3"/>
<path d="M575.0,230.0 L584.0,230.8 L593.0,231.8 L602.1,232.7 L611.1,233.8 L620.1,235.3 L629.1,236.8 L638.2,238.3 L647.2,239.8 L656.2,240.6 L665.2,242.1 L674.2,242.8" stroke="#ffc900" stroke-width="3.3"/>
<path d="M438.2,250.3 L447.2,251.1 L456.2,251.8 L465.2,251.8 L472.0,251.1" stroke="#ffa500" stroke-width="3.3"/>
<path d="M472.0,244.3 L479.5,242.1 L487.0,240.6 L494.6,239.8" stroke="#ffa500" stroke-width="3.3"/>
<path d="M575.0,232.3 L584.0,233.0" stroke="#ffa500" stroke-width="3.3"/>
<path d="M369.0,253.3 L378.0,253.3 L387.0,254.1 L396.1,254.1 L405.1,254.1 L414.1,254.8 L421.6,254.8 L429.2,254.1 L435.2,252.6 L441.2,249.6 L447.2,245.8 L453.2,242.1 L459.2,239.1 L465.2,237.5 L472.0,236.8" stroke="#ff7f00" stroke-width="3.3"/>
<path d="M472.0,251.8 L479.5,251.8 L487.0,251.1 L494.6,250.3 L502.1,248.8 L509.6,247.3 L517.1,245.8 L524.6,243.6 L532.2,241.3 L539.7,238.3 L547.2,235.3 L554.7,233.8 L562.2,232.3 L569.7,230.8 L575.0,230.0" stroke="#ff7f00" stroke-width="3.3"/>
<path d="M529.1,240.6 L536.7,239.8 L544.2,239.8 L551.7,240.6 L559.2,242.1 L568.2,243.6" stroke="#ff5900" stroke-width="3.3"/>
<path d="M650.2,245.1 L657.7,245.8 L665.2,247.3 L671.2,248.8 L678.0,249.6" stroke="#ff5900" stroke-width="3.3"/>
<path d="M369.0,237.5 L376.5,238.3 L384.0,239.1 L391.6,239.8 L397.6,240.6" stroke="#ff3200" stroke-width="3.3"/>
<path d="M469.8,244.3 L472.0,243.6" stroke="#ff3200" stroke-width="3.3"/>
<path d="M665.2,237.5 L671.2,236.0 L678.0,234.5" stroke="#ff3200" stroke-width="3.3"/>
<path d="M587.0,245.8 L594.5,245.1 L602.1,243.6 L609.6,242.1 L617.1,239.8 L624.6,237.5 L632.1,236.0 L639.7,235.3 L647.2,234.5 L654.7,235.3 L662.2,236.0 L669.7,236.8 L675.8,234.5 L678.0,232.3" stroke="#f91200" stroke-width="3.3"/>
<path d="M381.0,248.1 L388.5,248.8 L396.1,248.1 L403.6,246.6 L411.1,244.3 L418.6,242.1 L426.1,239.8" stroke="#e70000" stroke-width="3.3"/>
<path d="M469.8,248.8 L472.0,248.1" stroke="#e70000" stroke-width="3.3"/>
<path d="M532.2,245.1 L538.2,243.6 L544.2,241.3 L550.2,239.8 L556.2,238.3 L562.2,236.8 L568.2,236.0 L575.0,235.3" stroke="#e70000" stroke-width="3.3"/>
<path d="M575.0,235.3 L581.0,235.3 L585.5,234.5" stroke="#e70000" stroke-width="3.3"/>
<path d="M593.0,236.0 L599.1,237.5 L605.1,239.1 L611.1,240.6 L615.6,241.3" stroke="#e70000" stroke-width="3.3"/>
<path d="M472.0,248.1 L478.0,245.1 L484.0,242.8 L490.0,241.3 L497.6,240.6 L505.1,240.6 L514.1,241.3 L521.6,242.1 L529.1,242.1" stroke="#c10000" stroke-width="3.3"/>
<path d="M404.3,254.1 L411.1,253.3 L417.1,251.8 L423.1,249.6 L429.2,245.8 L435.2,242.1 L441.2,239.1 L447.2,237.5 L453.2,236.0 L459.2,235.3 L465.2,235.3 L472.0,236.0" stroke="#9b0000" stroke-width="3.3"/>
<path d="M472.0,236.0 L481.0,236.8 L490.0,237.5" stroke="#9b0000" stroke-width="3.3"/>
<path d="M587.0,248.1 L594.5,249.6 L602.1,251.8 L609.6,253.3 L617.1,253.3 L624.6,251.8 L632.1,249.6 L638.2,247.3 L644.2,245.1" stroke="#9b0000" stroke-width="3.3"/>
</g>
<rect x="369.50" y="206.50" width="308.00" height="70.60" fill="none" stroke="#383838" stroke-width="1.05"/>
<line x1="408.00" y1="277.10" x2="408.00" y2="273.90" stroke="#262626" stroke-width="1.2"/>
<line x1="408.00" y1="206.50" x2="408.00" y2="209.70" stroke="#262626" stroke-width="1.2"/>
<line x1="446.50" y1="277.10" x2="446.50" y2="273.90" stroke="#262626" stroke-width="1.2"/>
<line x1="446.50" y1="206.50" x2="446.50" y2="209.70" stroke="#262626" stroke-width="1.2"/>
<line x1="485.00" y1="277.10" x2="485.00" y2="273.90" stroke="#262626" stroke-width="1.2"/>
<line x1="485.00" y1="206.50" x2="485.00" y2="209.70" stroke="#262626" stroke-width="1.2"/>
<line x1="523.50" y1="277.10" x2="523.50" y2="273.90" stroke="#262626" stroke-width="1.2"/>
<line x1="523.50" y1="206.50" x2="523.50" y2="209.70" stroke="#262626" stroke-width="1.2"/>
<line x1="562.00" y1="277.10" x2="562.00" y2="273.90" stroke="#262626" stroke-width="1.2"/>
<line x1="562.00" y1="206.50" x2="562.00" y2="209.70" stroke="#262626" stroke-width="1.2"/>
<line x1="600.50" y1="277.10" x2="600.50" y2="273.90" stroke="#262626" stroke-width="1.2"/>
<line x1="600.50" y1="206.50" x2="600.50" y2="209.70" stroke="#262626" stroke-width="1.2"/>
<line x1="639.00" y1="277.10" x2="639.00" y2="273.90" stroke="#262626" stroke-width="1.2"/>
<line x1="639.00" y1="206.50" x2="639.00" y2="209.70" stroke="#262626" stroke-width="1.2"/>
<line x1="369.50" y1="224.15" x2="372.70" y2="224.15" stroke="#262626" stroke-width="1.2"/>
<line x1="677.50" y1="224.15" x2="674.30" y2="224.15" stroke="#262626" stroke-width="1.2"/>
<line x1="369.50" y1="241.80" x2="372.70" y2="241.80" stroke="#262626" stroke-width="1.2"/>
<line x1="677.50" y1="241.80" x2="674.30" y2="241.80" stroke="#262626" stroke-width="1.2"/>
<line x1="369.50" y1="259.45" x2="372.70" y2="259.45" stroke="#262626" stroke-width="1.2"/>
<line x1="677.50" y1="259.45" x2="674.30" y2="259.45" stroke="#262626" stroke-width="1.2"/>
<text transform="translate(375.40,217.10) scale(0.983,1)" text-anchor="start" font-size="11.8" fill="#000" >Cross</text>
<text transform="translate(369.50,293.30) scale(1.0,1)" text-anchor="middle" font-size="12.1" fill="#262626" >0</text>
<text transform="translate(408.00,293.30) scale(1.0,1)" text-anchor="middle" font-size="12.1" fill="#262626" >3</text>
<text transform="translate(446.50,293.30) scale(1.0,1)" text-anchor="middle" font-size="12.1" fill="#262626" >6</text>
<text transform="translate(485.00,293.30) scale(1.0,1)" text-anchor="middle" font-size="12.1" fill="#262626" >9</text>
<text transform="translate(523.50,293.30) scale(1.0,1)" text-anchor="middle" font-size="12.1" fill="#262626" >12</text>
<text transform="translate(562.00,293.30) scale(1.0,1)" text-anchor="middle" font-size="12.1" fill="#262626" >15</text>
<text transform="translate(600.50,293.30) scale(1.0,1)" text-anchor="middle" font-size="12.1" fill="#262626" >18</text>
<text transform="translate(639.00,293.30) scale(1.0,1)" text-anchor="middle" font-size="12.1" fill="#262626" >21</text>
<text transform="translate(677.50,293.30) scale(1.0,1)" text-anchor="middle" font-size="12.1" fill="#262626" >24</text>
<text transform="translate(523.50,309.20) scale(1.035,1)" text-anchor="middle" font-size="12.1" fill="#262626" >UTC(h)</text>
<text transform="translate(194.60,39.10) scale(1.085,1)" text-anchor="middle" font-size="11.7" fill="#000" >Broadcast ephemeris</text>
<text transform="translate(523.40,39.20) scale(1.03,1)" text-anchor="middle" font-size="11.2" fill="#000" >PPP-B2b</text>
<text transform="translate(10.6,160.3) rotate(-90) scale(1.10,1)" text-anchor="middle" font-size="11.8" fill="#262626">Orbit error(m)</text>
</svg></body></html>
